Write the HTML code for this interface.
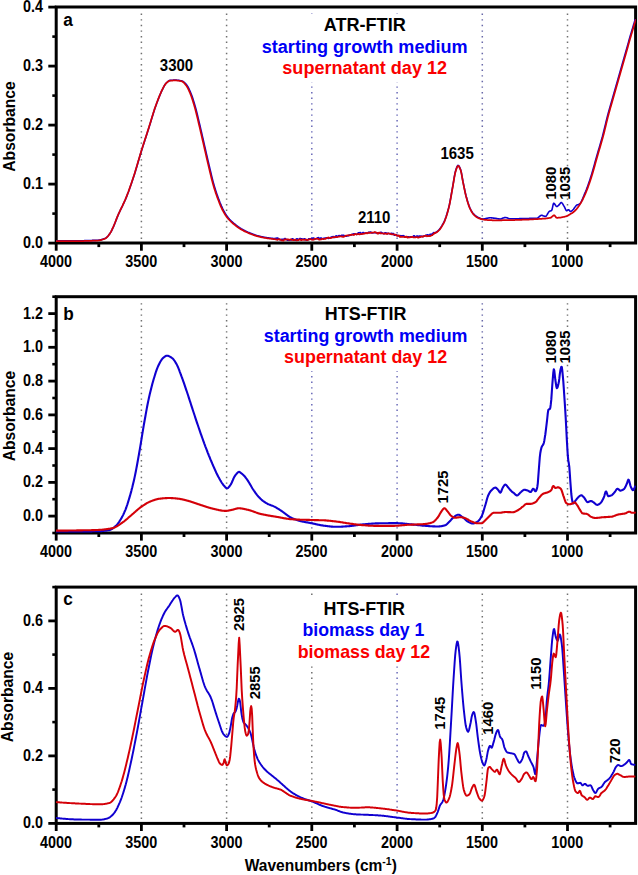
<!DOCTYPE html>
<html><head><meta charset="utf-8"><title>FTIR spectra</title>
<style>html,body{margin:0;padding:0;background:#fff}body{width:638px;height:875px;overflow:hidden;font-family:"Liberation Sans",sans-serif}</style></head>
<body>
<svg width="638" height="875" viewBox="0 0 638 875" style="display:block;font-family:'Liberation Sans',sans-serif;font-weight:bold">
<rect x="0" y="0" width="638" height="875" fill="#fff"/>
<defs>
<clipPath id="clipa"><rect x="56.0" y="6.0" width="579.8" height="238.0"/></clipPath>
<clipPath id="clipb"><rect x="56.0" y="295.7" width="579.8" height="238.3"/></clipPath>
<clipPath id="clipc"><rect x="56.0" y="586.1" width="579.8" height="238.3"/></clipPath>
</defs>
<line x1="141.4" y1="13.6" x2="141.4" y2="241.6" stroke="#707070" stroke-width="1.5" stroke-dasharray="1.4 4.2"/>
<line x1="226.6" y1="13.6" x2="226.6" y2="241.6" stroke="#707070" stroke-width="1.5" stroke-dasharray="1.4 4.2"/>
<line x1="311.8" y1="13.6" x2="311.8" y2="241.6" stroke="#6a6ab8" stroke-width="1.5" stroke-dasharray="1.4 4.2"/>
<line x1="397.1" y1="13.6" x2="397.1" y2="241.6" stroke="#6a6ab8" stroke-width="1.5" stroke-dasharray="1.4 4.2"/>
<line x1="482.3" y1="13.6" x2="482.3" y2="241.6" stroke="#6868a8" stroke-width="1.5" stroke-dasharray="1.4 4.2"/>
<line x1="567.5" y1="13.6" x2="567.5" y2="241.6" stroke="#707070" stroke-width="1.5" stroke-dasharray="1.4 4.2"/>
<line x1="141.4" y1="303.2" x2="141.4" y2="531.5" stroke="#707070" stroke-width="1.5" stroke-dasharray="1.4 4.2"/>
<line x1="226.6" y1="303.2" x2="226.6" y2="531.5" stroke="#707070" stroke-width="1.5" stroke-dasharray="1.4 4.2"/>
<line x1="311.8" y1="303.2" x2="311.8" y2="531.5" stroke="#6a6ab8" stroke-width="1.5" stroke-dasharray="1.4 4.2"/>
<line x1="397.1" y1="303.2" x2="397.1" y2="531.5" stroke="#6a6ab8" stroke-width="1.5" stroke-dasharray="1.4 4.2"/>
<line x1="482.3" y1="303.2" x2="482.3" y2="531.5" stroke="#6868a8" stroke-width="1.5" stroke-dasharray="1.4 4.2"/>
<line x1="567.5" y1="303.2" x2="567.5" y2="531.5" stroke="#707070" stroke-width="1.5" stroke-dasharray="1.4 4.2"/>
<line x1="141.4" y1="593.6" x2="141.4" y2="821.9" stroke="#707070" stroke-width="1.5" stroke-dasharray="1.4 4.2"/>
<line x1="226.6" y1="593.6" x2="226.6" y2="821.9" stroke="#707070" stroke-width="1.5" stroke-dasharray="1.4 4.2"/>
<line x1="311.8" y1="593.6" x2="311.8" y2="821.9" stroke="#707070" stroke-width="1.5" stroke-dasharray="1.4 4.2"/>
<line x1="397.1" y1="593.6" x2="397.1" y2="821.9" stroke="#6a6ab8" stroke-width="1.5" stroke-dasharray="1.4 4.2"/>
<line x1="482.3" y1="593.6" x2="482.3" y2="821.9" stroke="#707070" stroke-width="1.5" stroke-dasharray="1.4 4.2"/>
<line x1="567.5" y1="593.6" x2="567.5" y2="821.9" stroke="#707070" stroke-width="1.5" stroke-dasharray="1.4 4.2"/>
<rect x="258" y="14" width="214" height="68" fill="#fff"/>
<rect x="258" y="303" width="214" height="68" fill="#fff"/>
<rect x="292" y="597" width="144" height="68" fill="#fff"/>
<rect x="56.2" y="7.0" width="579.4" height="236.0" fill="none" stroke="#000" stroke-width="3"/>
<line x1="56.2" y1="243.1" x2="56.2" y2="250.7" stroke="#000" stroke-width="2.8"/>
<text transform="translate(56.0 267.2) scale(1 1.09)" font-size="14.4" text-anchor="middle">4000</text>
<line x1="98.8" y1="243.1" x2="98.8" y2="247.1" stroke="#000" stroke-width="2.8"/>
<line x1="141.4" y1="243.1" x2="141.4" y2="250.7" stroke="#000" stroke-width="2.8"/>
<text transform="translate(141.2 267.2) scale(1 1.09)" font-size="14.4" text-anchor="middle">3500</text>
<line x1="184.0" y1="243.1" x2="184.0" y2="247.1" stroke="#000" stroke-width="2.8"/>
<line x1="226.6" y1="243.1" x2="226.6" y2="250.7" stroke="#000" stroke-width="2.8"/>
<text transform="translate(226.4 267.2) scale(1 1.09)" font-size="14.4" text-anchor="middle">3000</text>
<line x1="269.2" y1="243.1" x2="269.2" y2="247.1" stroke="#000" stroke-width="2.8"/>
<line x1="311.8" y1="243.1" x2="311.8" y2="250.7" stroke="#000" stroke-width="2.8"/>
<text transform="translate(311.6 267.2) scale(1 1.09)" font-size="14.4" text-anchor="middle">2500</text>
<line x1="354.4" y1="243.1" x2="354.4" y2="247.1" stroke="#000" stroke-width="2.8"/>
<line x1="397.1" y1="243.1" x2="397.1" y2="250.7" stroke="#000" stroke-width="2.8"/>
<text transform="translate(396.9 267.2) scale(1 1.09)" font-size="14.4" text-anchor="middle">2000</text>
<line x1="439.7" y1="243.1" x2="439.7" y2="247.1" stroke="#000" stroke-width="2.8"/>
<line x1="482.3" y1="243.1" x2="482.3" y2="250.7" stroke="#000" stroke-width="2.8"/>
<text transform="translate(482.1 267.2) scale(1 1.09)" font-size="14.4" text-anchor="middle">1500</text>
<line x1="524.9" y1="243.1" x2="524.9" y2="247.1" stroke="#000" stroke-width="2.8"/>
<line x1="567.5" y1="243.1" x2="567.5" y2="250.7" stroke="#000" stroke-width="2.8"/>
<text transform="translate(567.3 267.2) scale(1 1.09)" font-size="14.4" text-anchor="middle">1000</text>
<line x1="610.1" y1="243.1" x2="610.1" y2="247.1" stroke="#000" stroke-width="2.8"/>
<line x1="48.3" y1="243.1" x2="56.2" y2="243.1" stroke="#000" stroke-width="2.8"/>
<text transform="translate(43.0 248.0) scale(1 1.1)" font-size="14.4" text-anchor="end">0.0</text>
<line x1="48.3" y1="184.1" x2="56.2" y2="184.1" stroke="#000" stroke-width="2.8"/>
<text transform="translate(43.0 189.0) scale(1 1.1)" font-size="14.4" text-anchor="end">0.1</text>
<line x1="48.3" y1="125.1" x2="56.2" y2="125.1" stroke="#000" stroke-width="2.8"/>
<text transform="translate(43.0 130.0) scale(1 1.1)" font-size="14.4" text-anchor="end">0.2</text>
<line x1="48.3" y1="66.1" x2="56.2" y2="66.1" stroke="#000" stroke-width="2.8"/>
<text transform="translate(43.0 71.0) scale(1 1.1)" font-size="14.4" text-anchor="end">0.3</text>
<line x1="48.3" y1="7.1" x2="56.2" y2="7.1" stroke="#000" stroke-width="2.8"/>
<text transform="translate(43.0 12.0) scale(1 1.1)" font-size="14.4" text-anchor="end">0.4</text>
<line x1="52.3" y1="213.6" x2="56.2" y2="213.6" stroke="#000" stroke-width="2.6"/>
<line x1="52.3" y1="154.6" x2="56.2" y2="154.6" stroke="#000" stroke-width="2.6"/>
<line x1="52.3" y1="95.6" x2="56.2" y2="95.6" stroke="#000" stroke-width="2.6"/>
<line x1="52.3" y1="36.6" x2="56.2" y2="36.6" stroke="#000" stroke-width="2.6"/>
<text transform="translate(14.9 126.5) rotate(-90) scale(1 1.04)" font-size="15.65" text-anchor="middle">Absorbance</text>
<text transform="translate(63.2 26.2) scale(1 1.05)" font-size="17.2">a</text>
<rect x="56.2" y="296.7" width="579.4" height="236.3" fill="none" stroke="#000" stroke-width="3"/>
<line x1="56.2" y1="533.0" x2="56.2" y2="540.6" stroke="#000" stroke-width="2.8"/>
<text transform="translate(56.0 557.1) scale(1 1.09)" font-size="14.4" text-anchor="middle">4000</text>
<line x1="98.8" y1="533.0" x2="98.8" y2="537.0" stroke="#000" stroke-width="2.8"/>
<line x1="141.4" y1="533.0" x2="141.4" y2="540.6" stroke="#000" stroke-width="2.8"/>
<text transform="translate(141.2 557.1) scale(1 1.09)" font-size="14.4" text-anchor="middle">3500</text>
<line x1="184.0" y1="533.0" x2="184.0" y2="537.0" stroke="#000" stroke-width="2.8"/>
<line x1="226.6" y1="533.0" x2="226.6" y2="540.6" stroke="#000" stroke-width="2.8"/>
<text transform="translate(226.4 557.1) scale(1 1.09)" font-size="14.4" text-anchor="middle">3000</text>
<line x1="269.2" y1="533.0" x2="269.2" y2="537.0" stroke="#000" stroke-width="2.8"/>
<line x1="311.8" y1="533.0" x2="311.8" y2="540.6" stroke="#000" stroke-width="2.8"/>
<text transform="translate(311.6 557.1) scale(1 1.09)" font-size="14.4" text-anchor="middle">2500</text>
<line x1="354.4" y1="533.0" x2="354.4" y2="537.0" stroke="#000" stroke-width="2.8"/>
<line x1="397.1" y1="533.0" x2="397.1" y2="540.6" stroke="#000" stroke-width="2.8"/>
<text transform="translate(396.9 557.1) scale(1 1.09)" font-size="14.4" text-anchor="middle">2000</text>
<line x1="439.7" y1="533.0" x2="439.7" y2="537.0" stroke="#000" stroke-width="2.8"/>
<line x1="482.3" y1="533.0" x2="482.3" y2="540.6" stroke="#000" stroke-width="2.8"/>
<text transform="translate(482.1 557.1) scale(1 1.09)" font-size="14.4" text-anchor="middle">1500</text>
<line x1="524.9" y1="533.0" x2="524.9" y2="537.0" stroke="#000" stroke-width="2.8"/>
<line x1="567.5" y1="533.0" x2="567.5" y2="540.6" stroke="#000" stroke-width="2.8"/>
<text transform="translate(567.3 557.1) scale(1 1.09)" font-size="14.4" text-anchor="middle">1000</text>
<line x1="610.1" y1="533.0" x2="610.1" y2="537.0" stroke="#000" stroke-width="2.8"/>
<line x1="48.3" y1="516.1" x2="56.2" y2="516.1" stroke="#000" stroke-width="2.8"/>
<text transform="translate(43.0 521.1) scale(1 1.1)" font-size="14.4" text-anchor="end">0.0</text>
<line x1="48.3" y1="482.4" x2="56.2" y2="482.4" stroke="#000" stroke-width="2.8"/>
<text transform="translate(43.0 487.3) scale(1 1.1)" font-size="14.4" text-anchor="end">0.2</text>
<line x1="48.3" y1="448.6" x2="56.2" y2="448.6" stroke="#000" stroke-width="2.8"/>
<text transform="translate(43.0 453.6) scale(1 1.1)" font-size="14.4" text-anchor="end">0.4</text>
<line x1="48.3" y1="414.9" x2="56.2" y2="414.9" stroke="#000" stroke-width="2.8"/>
<text transform="translate(43.0 419.8) scale(1 1.1)" font-size="14.4" text-anchor="end">0.6</text>
<line x1="48.3" y1="381.1" x2="56.2" y2="381.1" stroke="#000" stroke-width="2.8"/>
<text transform="translate(43.0 386.0) scale(1 1.1)" font-size="14.4" text-anchor="end">0.8</text>
<line x1="48.3" y1="347.3" x2="56.2" y2="347.3" stroke="#000" stroke-width="2.8"/>
<text transform="translate(43.0 352.3) scale(1 1.1)" font-size="14.4" text-anchor="end">1.0</text>
<line x1="48.3" y1="313.6" x2="56.2" y2="313.6" stroke="#000" stroke-width="2.8"/>
<text transform="translate(43.0 318.5) scale(1 1.1)" font-size="14.4" text-anchor="end">1.2</text>
<line x1="52.3" y1="533.0" x2="56.2" y2="533.0" stroke="#000" stroke-width="2.6"/>
<line x1="52.3" y1="499.2" x2="56.2" y2="499.2" stroke="#000" stroke-width="2.6"/>
<line x1="52.3" y1="465.5" x2="56.2" y2="465.5" stroke="#000" stroke-width="2.6"/>
<line x1="52.3" y1="431.7" x2="56.2" y2="431.7" stroke="#000" stroke-width="2.6"/>
<line x1="52.3" y1="398.0" x2="56.2" y2="398.0" stroke="#000" stroke-width="2.6"/>
<line x1="52.3" y1="364.2" x2="56.2" y2="364.2" stroke="#000" stroke-width="2.6"/>
<line x1="52.3" y1="330.5" x2="56.2" y2="330.5" stroke="#000" stroke-width="2.6"/>
<line x1="52.3" y1="296.7" x2="56.2" y2="296.7" stroke="#000" stroke-width="2.6"/>
<text transform="translate(14.8 416.1) rotate(-90) scale(1 1.04)" font-size="15.65" text-anchor="middle">Absorbance</text>
<text transform="translate(63.2 319.5) scale(1 1.05)" font-size="17.2">b</text>
<rect x="56.2" y="587.1" width="579.4" height="236.3" fill="none" stroke="#000" stroke-width="3"/>
<line x1="56.2" y1="823.4" x2="56.2" y2="831.0" stroke="#000" stroke-width="2.8"/>
<text transform="translate(56.0 847.5) scale(1 1.09)" font-size="14.4" text-anchor="middle">4000</text>
<line x1="98.8" y1="823.4" x2="98.8" y2="827.4" stroke="#000" stroke-width="2.8"/>
<line x1="141.4" y1="823.4" x2="141.4" y2="831.0" stroke="#000" stroke-width="2.8"/>
<text transform="translate(141.2 847.5) scale(1 1.09)" font-size="14.4" text-anchor="middle">3500</text>
<line x1="184.0" y1="823.4" x2="184.0" y2="827.4" stroke="#000" stroke-width="2.8"/>
<line x1="226.6" y1="823.4" x2="226.6" y2="831.0" stroke="#000" stroke-width="2.8"/>
<text transform="translate(226.4 847.5) scale(1 1.09)" font-size="14.4" text-anchor="middle">3000</text>
<line x1="269.2" y1="823.4" x2="269.2" y2="827.4" stroke="#000" stroke-width="2.8"/>
<line x1="311.8" y1="823.4" x2="311.8" y2="831.0" stroke="#000" stroke-width="2.8"/>
<text transform="translate(311.6 847.5) scale(1 1.09)" font-size="14.4" text-anchor="middle">2500</text>
<line x1="354.4" y1="823.4" x2="354.4" y2="827.4" stroke="#000" stroke-width="2.8"/>
<line x1="397.1" y1="823.4" x2="397.1" y2="831.0" stroke="#000" stroke-width="2.8"/>
<text transform="translate(396.9 847.5) scale(1 1.09)" font-size="14.4" text-anchor="middle">2000</text>
<line x1="439.7" y1="823.4" x2="439.7" y2="827.4" stroke="#000" stroke-width="2.8"/>
<line x1="482.3" y1="823.4" x2="482.3" y2="831.0" stroke="#000" stroke-width="2.8"/>
<text transform="translate(482.1 847.5) scale(1 1.09)" font-size="14.4" text-anchor="middle">1500</text>
<line x1="524.9" y1="823.4" x2="524.9" y2="827.4" stroke="#000" stroke-width="2.8"/>
<line x1="567.5" y1="823.4" x2="567.5" y2="831.0" stroke="#000" stroke-width="2.8"/>
<text transform="translate(567.3 847.5) scale(1 1.09)" font-size="14.4" text-anchor="middle">1000</text>
<line x1="610.1" y1="823.4" x2="610.1" y2="827.4" stroke="#000" stroke-width="2.8"/>
<line x1="48.3" y1="823.4" x2="56.2" y2="823.4" stroke="#000" stroke-width="2.8"/>
<text transform="translate(43.0 828.4) scale(1 1.1)" font-size="14.4" text-anchor="end">0.0</text>
<line x1="48.3" y1="755.9" x2="56.2" y2="755.9" stroke="#000" stroke-width="2.8"/>
<text transform="translate(43.0 760.8) scale(1 1.1)" font-size="14.4" text-anchor="end">0.2</text>
<line x1="48.3" y1="688.4" x2="56.2" y2="688.4" stroke="#000" stroke-width="2.8"/>
<text transform="translate(43.0 693.3) scale(1 1.1)" font-size="14.4" text-anchor="end">0.4</text>
<line x1="48.3" y1="620.9" x2="56.2" y2="620.9" stroke="#000" stroke-width="2.8"/>
<text transform="translate(43.0 625.8) scale(1 1.1)" font-size="14.4" text-anchor="end">0.6</text>
<line x1="52.3" y1="789.6" x2="56.2" y2="789.6" stroke="#000" stroke-width="2.6"/>
<line x1="52.3" y1="722.1" x2="56.2" y2="722.1" stroke="#000" stroke-width="2.6"/>
<line x1="52.3" y1="654.6" x2="56.2" y2="654.6" stroke="#000" stroke-width="2.6"/>
<line x1="52.3" y1="587.1" x2="56.2" y2="587.1" stroke="#000" stroke-width="2.6"/>
<text transform="translate(12.8 697.0) rotate(-90) scale(1 1.04)" font-size="15.65" text-anchor="middle">Absorbance</text>
<text transform="translate(63.2 605.4) scale(1 1.05)" font-size="17.2">c</text>
<path d="M56.5 240.9 L57.0 240.9 L57.5 240.9 L58.0 240.9 L58.5 240.9 L59.0 240.9 L59.5 240.9 L60.0 240.9 L60.5 240.9 L61.0 240.9 L61.5 240.9 L62.0 240.9 L62.5 240.9 L63.0 240.9 L63.5 240.9 L64.0 240.9 L64.5 240.9 L65.0 240.9 L65.5 240.9 L66.0 240.9 L66.5 240.9 L67.0 240.9 L67.5 240.9 L68.0 240.9 L68.5 240.9 L69.0 240.9 L69.5 240.9 L70.0 240.8 L70.5 240.8 L71.0 240.8 L71.5 240.8 L72.0 240.8 L72.5 240.8 L73.0 240.8 L73.5 240.8 L74.0 240.8 L74.5 240.8 L75.0 240.8 L75.5 240.8 L76.0 240.8 L76.5 240.8 L77.0 240.8 L77.5 240.8 L78.0 240.8 L78.5 240.8 L79.0 240.7 L79.5 240.7 L80.0 240.7 L80.5 240.7 L81.0 240.7 L81.5 240.7 L82.0 240.7 L82.5 240.7 L83.0 240.7 L83.5 240.7 L84.0 240.7 L84.5 240.6 L85.0 240.6 L85.5 240.6 L86.0 240.6 L86.5 240.6 L87.0 240.6 L87.5 240.6 L88.0 240.6 L88.5 240.6 L89.0 240.5 L89.5 240.5 L90.0 240.5 L90.5 240.5 L91.0 240.5 L91.5 240.5 L92.0 240.5 L92.5 240.4 L93.0 240.4 L93.5 240.4 L94.0 240.4 L94.5 240.4 L95.0 240.4 L95.5 240.4 L96.0 240.3 L96.5 240.3 L97.0 240.3 L97.5 240.3 L98.0 240.3 L98.5 240.2 L99.0 240.1 L99.5 240.1 L100.0 240.0 L100.5 239.9 L101.0 239.8 L101.5 239.6 L102.0 239.5 L102.5 239.3 L103.0 239.2 L103.5 239.0 L104.0 238.8 L104.5 238.6 L105.0 238.4 L105.5 238.2 L106.0 237.9 L106.5 237.5 L107.0 237.1 L107.5 236.5 L108.0 236.0 L108.5 235.4 L109.0 234.7 L109.5 234.1 L110.0 233.4 L110.5 232.6 L111.0 231.8 L111.5 230.8 L112.0 229.8 L112.5 228.7 L113.0 227.7 L113.5 226.6 L114.0 225.4 L114.5 224.2 L115.0 223.0 L115.5 221.7 L116.0 220.4 L116.5 219.1 L117.0 217.8 L117.5 216.6 L118.0 215.4 L118.5 214.2 L119.0 213.1 L119.5 212.0 L120.0 211.0 L120.5 209.9 L121.0 208.9 L121.5 207.8 L122.0 206.8 L122.5 205.8 L123.0 204.7 L123.5 203.7 L124.0 202.6 L124.5 201.5 L125.0 200.4 L125.5 199.3 L126.0 198.1 L126.5 196.9 L127.0 195.6 L127.5 194.3 L128.0 193.0 L128.5 191.7 L129.0 190.3 L129.5 188.9 L130.0 187.5 L130.5 186.1 L131.0 184.7 L131.5 183.2 L132.0 181.7 L132.5 180.2 L133.0 178.7 L133.5 177.2 L134.0 175.7 L134.5 174.2 L135.0 172.6 L135.5 171.0 L136.0 169.3 L136.5 167.6 L137.0 165.9 L137.5 164.2 L138.0 162.5 L138.5 160.8 L139.0 159.1 L139.5 157.4 L140.0 155.7 L140.5 154.0 L141.0 152.4 L141.5 150.8 L142.0 149.2 L142.5 147.6 L143.0 146.0 L143.5 144.5 L144.0 142.9 L144.5 141.4 L145.0 139.8 L145.5 138.3 L146.0 136.8 L146.5 135.2 L147.0 133.7 L147.5 132.1 L148.0 130.6 L148.5 129.0 L149.0 127.4 L149.5 125.8 L150.0 124.2 L150.5 122.6 L151.0 120.9 L151.5 119.3 L152.0 117.6 L152.5 116.0 L153.0 114.4 L153.5 112.8 L154.0 111.2 L154.5 109.6 L155.0 108.1 L155.5 106.7 L156.0 105.3 L156.5 103.9 L157.0 102.5 L157.5 101.2 L158.0 99.9 L158.5 98.6 L159.0 97.3 L159.5 96.1 L160.0 94.9 L160.5 93.7 L161.0 92.6 L161.5 91.4 L162.0 90.3 L162.5 89.3 L163.0 88.3 L163.5 87.3 L164.0 86.4 L164.5 85.5 L165.0 84.7 L165.5 83.9 L166.0 83.3 L166.5 82.8 L167.0 82.3 L167.5 81.9 L168.0 81.4 L168.5 81.1 L169.0 80.8 L169.5 80.5 L170.0 80.4 L170.5 80.4 L171.0 80.3 L171.5 80.3 L172.0 80.2 L172.5 80.2 L173.0 80.2 L173.5 80.1 L174.0 80.1 L174.5 80.1 L175.0 80.1 L175.5 80.1 L176.0 80.1 L176.5 80.1 L177.0 80.2 L177.5 80.2 L178.0 80.2 L178.5 80.3 L179.0 80.4 L179.5 80.5 L180.0 80.6 L180.5 80.7 L181.0 80.8 L181.5 80.9 L182.0 81.0 L182.5 81.2 L183.0 81.5 L183.5 81.8 L184.0 82.2 L184.5 82.6 L185.0 83.1 L185.5 83.6 L186.0 84.1 L186.5 84.7 L187.0 85.3 L187.5 86.1 L188.0 87.0 L188.5 87.9 L189.0 88.9 L189.5 90.0 L190.0 91.1 L190.5 92.3 L191.0 93.5 L191.5 94.8 L192.0 96.1 L192.5 97.6 L193.0 99.1 L193.5 100.7 L194.0 102.3 L194.5 104.0 L195.0 105.7 L195.5 107.5 L196.0 109.3 L196.5 111.2 L197.0 113.2 L197.5 115.3 L198.0 117.4 L198.5 119.5 L199.0 121.6 L199.5 123.7 L200.0 125.8 L200.5 127.9 L201.0 130.1 L201.5 132.2 L202.0 134.4 L202.5 136.6 L203.0 138.8 L203.5 141.0 L204.0 143.2 L204.5 145.4 L205.0 147.5 L205.5 149.7 L206.0 151.9 L206.5 154.1 L207.0 156.3 L207.5 158.5 L208.0 160.7 L208.5 162.8 L209.0 164.9 L209.5 167.0 L210.0 169.1 L210.5 171.2 L211.0 173.3 L211.5 175.4 L212.0 177.5 L212.5 179.5 L213.0 181.4 L213.5 183.2 L214.0 185.0 L214.5 186.7 L215.0 188.3 L215.5 189.9 L216.0 191.5 L216.5 193.0 L217.0 194.4 L217.5 195.8 L218.0 197.2 L218.5 198.6 L219.0 199.9 L219.5 201.2 L220.0 202.5 L220.5 203.7 L221.0 204.9 L221.5 206.1 L222.0 207.2 L222.5 208.3 L223.0 209.3 L223.5 210.3 L224.0 211.2 L224.5 212.1 L225.0 213.0 L225.5 213.8 L226.0 214.6 L226.5 215.4 L227.0 216.1 L227.5 216.8 L228.0 217.5 L228.5 218.1 L229.0 218.6 L229.5 219.2 L230.0 219.7 L230.5 220.2 L231.0 220.7 L231.5 221.2 L232.0 221.7 L232.5 222.1 L233.0 222.5 L233.5 223.0 L234.0 223.4 L234.5 223.8 L235.0 224.2 L235.5 224.6 L236.0 225.0 L236.5 225.4 L237.0 225.8 L237.5 226.2 L238.0 226.5 L238.5 226.9 L239.0 227.2 L239.5 227.6 L240.0 227.9 L240.5 228.2 L241.0 228.6 L241.5 228.9 L242.0 229.1 L242.5 229.4 L243.0 229.7 L243.5 230.0 L244.0 230.2 L244.5 230.5 L245.0 230.8 L245.5 231.0 L246.0 231.2 L246.5 231.5 L247.0 231.7 L247.5 231.9 L248.0 232.2 L248.5 232.4 L249.0 232.6 L249.5 232.8 L250.0 233.0 L250.5 233.2 L251.0 233.4 L251.5 233.6 L252.0 233.8 L252.5 234.0 L253.0 234.2 L253.5 234.4 L254.0 234.5 L254.5 234.7 L255.0 234.9 L255.5 235.1 L256.0 235.2 L256.5 235.4 L257.0 235.6 L257.5 235.7 L258.0 235.8 L258.5 236.0 L259.0 236.1 L259.5 236.2 L260.0 236.3 L260.5 236.5 L261.0 236.6 L261.5 236.7 L262.0 236.8 L262.5 236.9 L263.0 237.0 L263.5 237.1 L264.0 237.2 L264.5 237.3 L265.0 237.4 L265.5 237.5 L266.0 237.6 L266.5 237.6 L267.0 237.7 L267.5 237.8 L268.0 237.9 L268.5 237.9 L269.0 238.0 L269.5 238.1 L270.0 238.1 L270.5 238.2 L271.0 238.3 L271.5 238.3 L272.0 238.4 L272.5 238.4 L273.0 238.5 L273.5 238.5 L274.0 238.6 L274.5 238.6 L275.0 238.7 L275.5 238.2 L276.0 238.2 L276.5 238.3 L277.0 238.0 L277.5 238.1 L278.0 238.1 L278.5 239.0 L279.0 239.0 L279.5 239.1 L280.0 239.6 L280.5 239.6 L281.0 239.7 L281.5 239.2 L282.0 239.2 L282.5 239.2 L283.0 239.4 L283.5 239.4 L284.0 239.4 L284.5 238.6 L285.0 238.6 L285.5 238.6 L286.0 239.5 L286.5 239.5 L287.0 239.5 L287.5 240.3 L288.0 240.3 L288.5 240.3 L289.0 240.1 L289.5 240.1 L290.0 240.1 L290.5 239.9 L291.0 239.9 L291.5 239.9 L292.0 238.8 L292.5 238.8 L293.0 238.8 L293.5 240.2 L294.0 240.2 L294.5 240.2 L295.0 240.1 L295.5 240.1 L296.0 240.1 L296.5 238.9 L297.0 238.9 L297.5 238.9 L298.0 239.7 L298.5 239.7 L299.0 239.7 L299.5 238.6 L300.0 238.6 L300.5 238.6 L301.0 238.8 L301.5 238.8 L302.0 238.8 L302.5 239.2 L303.0 239.2 L303.5 239.2 L304.0 238.9 L304.5 238.8 L305.0 238.8 L305.5 239.9 L306.0 239.9 L306.5 239.8 L307.0 239.9 L307.5 239.8 L308.0 239.8 L308.5 238.9 L309.0 238.9 L309.5 238.8 L310.0 238.7 L310.5 238.7 L311.0 238.7 L311.5 238.2 L312.0 238.2 L312.5 238.2 L313.0 238.1 L313.5 238.0 L314.0 238.0 L314.5 239.1 L315.0 239.1 L315.5 239.0 L316.0 238.8 L316.5 238.8 L317.0 238.7 L317.5 237.7 L318.0 237.7 L318.5 237.6 L319.0 238.3 L319.5 238.3 L320.0 238.3 L320.5 238.1 L321.0 238.0 L321.5 238.0 L322.0 238.8 L322.5 238.7 L323.0 238.7 L323.5 238.4 L324.0 238.4 L324.5 238.3 L325.0 238.1 L325.5 238.0 L326.0 238.0 L326.5 237.8 L327.0 237.8 L327.5 237.7 L328.0 238.4 L328.5 238.4 L329.0 238.3 L329.5 238.3 L330.0 238.3 L330.5 238.2 L331.0 237.0 L331.5 237.0 L332.0 236.9 L332.5 236.7 L333.0 236.6 L333.5 236.6 L334.0 237.5 L334.5 237.5 L335.0 237.4 L335.5 236.0 L336.0 236.0 L336.5 235.9 L337.0 236.4 L337.5 236.4 L338.0 236.3 L338.5 235.7 L339.0 235.6 L339.5 235.6 L340.0 235.9 L340.5 235.9 L341.0 235.8 L341.5 235.3 L342.0 235.2 L342.5 235.2 L343.0 235.5 L343.5 235.4 L344.0 235.3 L344.5 236.2 L345.0 236.1 L345.5 236.0 L346.0 236.2 L346.5 236.1 L347.0 236.0 L347.5 235.7 L348.0 235.7 L348.5 235.6 L349.0 235.1 L349.5 235.1 L350.0 235.0 L350.5 235.0 L351.0 235.0 L351.5 234.9 L352.0 234.4 L352.5 234.3 L353.0 234.2 L353.5 233.8 L354.0 233.8 L354.5 233.7 L355.0 234.1 L355.5 234.0 L356.0 234.0 L356.5 234.4 L357.0 234.3 L357.5 234.3 L358.0 233.0 L358.5 232.9 L359.0 232.8 L359.5 232.7 L360.0 232.6 L360.5 232.5 L361.0 233.8 L361.5 233.7 L362.0 233.6 L362.5 232.7 L363.0 232.6 L363.5 232.6 L364.0 233.2 L364.5 233.2 L365.0 233.1 L365.5 233.1 L366.0 233.1 L366.5 233.0 L367.0 233.3 L367.5 233.3 L368.0 233.2 L368.5 232.2 L369.0 232.2 L369.5 232.2 L370.0 232.1 L370.5 232.1 L371.0 232.1 L371.5 232.9 L372.0 232.9 L372.5 232.9 L373.0 232.8 L373.5 232.8 L374.0 232.8 L374.5 232.6 L375.0 232.6 L375.5 232.6 L376.0 232.9 L376.5 233.0 L377.0 233.0 L377.5 232.7 L378.0 232.7 L378.5 232.7 L379.0 233.3 L379.5 233.3 L380.0 233.4 L380.5 232.3 L381.0 232.3 L381.5 232.3 L382.0 233.1 L382.5 233.1 L383.0 233.2 L383.5 233.6 L384.0 233.7 L384.5 233.7 L385.0 232.7 L385.5 232.8 L386.0 232.9 L386.5 233.4 L387.0 233.5 L387.5 233.6 L388.0 233.3 L388.5 233.4 L389.0 233.5 L389.5 233.7 L390.0 233.8 L390.5 233.9 L391.0 233.3 L391.5 233.4 L392.0 233.5 L392.5 233.5 L393.0 233.5 L393.5 233.6 L394.0 235.0 L394.5 235.1 L395.0 235.2 L395.5 234.7 L396.0 234.8 L396.5 234.9 L397.0 235.3 L397.5 235.4 L398.0 235.5 L398.5 235.9 L399.0 236.0 L399.5 236.1 L400.0 235.6 L400.5 235.7 L401.0 235.8 L401.5 235.7 L402.0 235.8 L402.5 235.9 L403.0 235.6 L403.5 235.7 L404.0 235.7 L404.5 236.9 L405.0 236.9 L405.5 236.9 L406.0 237.0 L406.5 237.0 L407.0 237.0 L407.5 236.8 L408.0 236.8 L408.5 236.8 L409.0 237.1 L409.5 237.1 L410.0 237.1 L410.5 236.7 L411.0 236.7 L411.5 236.7 L412.0 236.8 L412.5 236.8 L413.0 236.8 L413.5 235.8 L414.0 235.8 L414.5 235.8 L415.0 236.9 L415.5 236.9 L416.0 236.9 L416.5 236.1 L417.0 236.1 L417.5 236.1 L418.0 236.3 L418.5 236.3 L419.0 236.3 L419.5 236.1 L420.0 236.0 L420.5 236.0 L421.0 236.4 L421.5 236.4 L422.0 236.3 L422.5 236.5 L423.0 236.4 L423.5 236.3 L424.0 236.1 L424.5 236.0 L425.0 236.0 L425.5 235.4 L426.0 235.3 L426.5 235.2 L427.0 234.9 L427.5 234.8 L428.0 234.7 L428.5 235.8 L429.0 235.6 L429.5 235.5 L430.0 234.4 L430.5 234.3 L431.0 234.2 L431.5 234.3 L432.0 234.1 L432.5 233.9 L433.0 233.1 L433.5 232.8 L434.0 232.6 L434.5 232.7 L435.0 232.8 L435.5 232.5 L436.0 232.2 L436.5 231.9 L437.0 231.5 L437.5 231.2 L438.0 230.8 L438.5 230.3 L439.0 229.8 L439.5 229.2 L440.0 228.6 L440.5 227.9 L441.0 227.2 L441.5 226.4 L442.0 225.6 L442.5 224.7 L443.0 223.8 L443.5 222.9 L444.0 221.9 L444.5 220.8 L445.0 219.6 L445.5 218.3 L446.0 216.9 L446.5 215.3 L447.0 213.7 L447.5 212.0 L448.0 210.2 L448.5 208.4 L449.0 206.4 L449.5 204.2 L450.0 201.7 L450.5 199.0 L451.0 196.2 L451.5 193.3 L452.0 190.5 L452.5 187.7 L453.0 184.9 L453.5 181.9 L454.0 178.8 L454.5 175.9 L455.0 173.3 L455.5 171.2 L456.0 169.6 L456.5 168.1 L457.0 166.8 L457.5 165.9 L458.0 165.4 L458.5 165.6 L459.0 166.1 L459.5 167.0 L460.0 168.1 L460.5 169.3 L461.0 170.9 L461.5 173.3 L462.0 176.1 L462.5 179.0 L463.0 181.7 L463.5 184.1 L464.0 186.6 L464.5 189.0 L465.0 191.4 L465.5 193.6 L466.0 195.7 L466.5 197.6 L467.0 199.3 L467.5 201.0 L468.0 202.7 L468.5 204.2 L469.0 205.6 L469.5 206.9 L470.0 208.1 L470.5 209.1 L471.0 210.1 L471.5 211.0 L472.0 211.8 L472.5 212.6 L473.0 213.3 L473.5 213.9 L474.0 214.4 L474.5 214.9 L475.0 215.3 L475.5 215.7 L476.0 216.1 L476.5 216.5 L477.0 216.8 L477.5 217.1 L478.0 217.4 L478.5 217.6 L479.0 217.8 L479.5 218.1 L480.0 218.3 L480.5 218.5 L481.0 218.7 L481.5 218.8 L482.0 218.9 L482.5 219.0 L483.0 219.0 L483.5 219.0 L484.0 218.9 L484.5 218.8 L485.0 218.7 L485.5 218.6 L486.0 218.5 L486.5 218.4 L487.0 218.3 L487.5 218.2 L488.0 218.0 L488.5 218.0 L489.0 217.9 L489.5 217.8 L490.0 217.8 L490.5 217.8 L491.0 217.8 L491.5 217.9 L492.0 217.9 L492.5 218.0 L493.0 218.0 L493.5 218.1 L494.0 218.1 L494.5 218.2 L495.0 218.3 L495.5 218.3 L496.0 218.4 L496.5 218.5 L497.0 218.6 L497.5 218.7 L498.0 218.8 L498.5 218.9 L499.0 218.9 L499.5 219.0 L500.0 219.0 L500.5 219.0 L501.0 218.9 L501.5 218.7 L502.0 218.5 L502.5 218.3 L503.0 218.1 L503.5 217.9 L504.0 217.7 L504.5 217.6 L505.0 217.5 L505.5 217.5 L506.0 217.6 L506.5 217.7 L507.0 217.8 L507.5 218.0 L508.0 218.2 L508.5 218.4 L509.0 218.6 L509.5 218.7 L510.0 218.8 L510.5 218.8 L511.0 218.8 L511.5 218.8 L512.0 218.8 L512.5 218.8 L513.0 218.8 L513.5 218.8 L514.0 218.8 L514.5 218.8 L515.0 218.7 L515.5 218.7 L516.0 218.7 L516.5 218.7 L517.0 218.7 L517.5 218.7 L518.0 218.7 L518.5 218.7 L519.0 218.7 L519.5 218.6 L520.0 218.6 L520.5 218.6 L521.0 218.6 L521.5 218.6 L522.0 218.6 L522.5 218.6 L523.0 218.5 L523.5 218.5 L524.0 218.5 L524.5 218.5 L525.0 218.5 L525.5 218.5 L526.0 218.5 L526.5 218.5 L527.0 218.5 L527.5 218.5 L528.0 218.5 L528.5 218.5 L529.0 218.5 L529.5 218.4 L530.0 218.4 L530.5 218.4 L531.0 218.4 L531.5 218.4 L532.0 218.4 L532.5 218.4 L533.0 218.4 L533.5 218.4 L534.0 218.4 L534.5 218.4 L535.0 218.4 L535.5 218.3 L536.0 218.3 L536.5 218.3 L537.0 218.2 L537.5 218.0 L538.0 217.7 L538.5 217.3 L539.0 216.9 L539.5 216.4 L540.0 216.0 L540.5 215.7 L541.0 215.4 L541.5 215.3 L542.0 215.3 L542.5 215.5 L543.0 215.7 L543.5 215.9 L544.0 216.1 L544.5 216.3 L545.0 216.5 L545.5 216.5 L546.0 216.2 L546.5 215.6 L547.0 214.9 L547.5 214.0 L548.0 213.1 L548.5 212.3 L549.0 211.7 L549.5 211.3 L550.0 211.1 L550.5 210.9 L551.0 210.7 L551.5 210.5 L552.0 209.7 L552.5 207.6 L553.0 205.1 L553.5 203.4 L554.0 203.3 L554.5 203.8 L555.0 204.5 L555.5 205.3 L556.0 206.0 L556.5 206.5 L557.0 206.5 L557.5 206.2 L558.0 205.8 L558.5 205.4 L559.0 204.9 L559.5 204.4 L560.0 203.7 L560.5 203.0 L561.0 202.5 L561.5 202.6 L562.0 203.0 L562.5 203.6 L563.0 204.4 L563.5 205.3 L564.0 206.2 L564.5 207.0 L565.0 208.1 L565.5 209.2 L566.0 210.2 L566.5 210.7 L567.0 210.7 L567.5 210.3 L568.0 209.9 L568.5 209.7 L569.0 210.0 L569.5 210.6 L570.0 211.2 L570.5 211.5 L571.0 211.4 L571.5 211.1 L572.0 210.7 L572.5 210.2 L573.0 209.7 L573.5 209.2 L574.0 208.5 L574.5 207.8 L575.0 207.1 L575.5 206.4 L576.0 205.8 L576.5 205.3 L577.0 205.0 L577.5 204.8 L578.0 204.7 L578.5 204.5 L579.0 204.3 L579.5 204.0 L580.0 203.6 L580.5 202.9 L581.0 202.1 L581.5 201.2 L582.0 200.2 L582.5 199.0 L583.0 197.8 L583.5 196.6 L584.0 195.4 L584.5 194.1 L585.0 192.9 L585.5 191.8 L586.0 190.5 L586.5 189.3 L587.0 187.9 L587.5 186.6 L588.0 185.2 L588.5 183.8 L589.0 182.3 L589.5 180.9 L590.0 179.4 L590.5 177.8 L591.0 176.3 L591.5 174.7 L592.0 173.0 L592.5 171.3 L593.0 169.5 L593.5 167.7 L594.0 165.9 L594.5 164.1 L595.0 162.3 L595.5 160.4 L596.0 158.7 L596.5 156.9 L597.0 155.2 L597.5 153.5 L598.0 151.8 L598.5 150.1 L599.0 148.4 L599.5 146.7 L600.0 145.0 L600.5 143.3 L601.0 141.6 L601.5 139.8 L602.0 138.0 L602.5 136.2 L603.0 134.2 L603.5 132.3 L604.0 130.3 L604.5 128.2 L605.0 126.1 L605.5 124.1 L606.0 122.0 L606.5 120.0 L607.0 118.0 L607.5 116.0 L608.0 114.1 L608.5 112.3 L609.0 110.4 L609.5 108.6 L610.0 106.9 L610.5 105.1 L611.0 103.4 L611.5 101.7 L612.0 100.0 L612.5 98.3 L613.0 96.5 L613.5 94.8 L614.0 93.0 L614.5 91.3 L615.0 89.5 L615.5 87.8 L616.0 86.0 L616.5 84.3 L617.0 82.5 L617.5 80.8 L618.0 79.0 L618.5 77.3 L619.0 75.5 L619.5 73.7 L620.0 72.0 L620.5 70.2 L621.0 68.5 L621.5 66.7 L622.0 65.0 L622.5 63.2 L623.0 61.5 L623.5 59.7 L624.0 58.0 L624.5 56.2 L625.0 54.5 L625.5 52.7 L626.0 50.9 L626.5 49.2 L627.0 47.4 L627.5 45.6 L628.0 43.9 L628.5 42.1 L629.0 40.3 L629.5 38.6 L630.0 36.8 L630.5 35.1 L631.0 33.4 L631.5 31.7 L632.0 30.0 L632.5 28.4 L633.0 26.7 L633.5 25.0 L634.0 23.4 L634.5 21.8 L635.0 20.1 L635.1 19.8" fill="none" stroke="#1000d0" stroke-width="1.6" stroke-linejoin="round" stroke-linecap="round" clip-path="url(#clipa)"/>
<path d="M56.3 241.2 L56.8 241.2 L57.3 241.2 L57.8 241.2 L58.3 241.2 L58.8 241.2 L59.3 241.2 L59.8 241.2 L60.3 241.2 L60.8 241.2 L61.3 241.2 L61.8 241.2 L62.3 241.2 L62.8 241.2 L63.3 241.2 L63.8 241.2 L64.3 241.2 L64.8 241.2 L65.3 241.2 L65.8 241.2 L66.3 241.2 L66.8 241.2 L67.3 241.2 L67.8 241.2 L68.3 241.2 L68.8 241.2 L69.3 241.2 L69.8 241.1 L70.3 241.1 L70.8 241.1 L71.3 241.1 L71.8 241.1 L72.3 241.1 L72.8 241.1 L73.3 241.1 L73.8 241.1 L74.3 241.1 L74.8 241.1 L75.3 241.1 L75.8 241.1 L76.3 241.1 L76.8 241.1 L77.3 241.1 L77.8 241.1 L78.3 241.1 L78.8 241.0 L79.3 241.0 L79.8 241.0 L80.3 241.0 L80.8 241.0 L81.3 241.0 L81.8 241.0 L82.3 241.0 L82.8 241.0 L83.3 241.0 L83.8 241.0 L84.3 240.9 L84.8 240.9 L85.3 240.9 L85.8 240.9 L86.3 240.9 L86.8 240.9 L87.3 240.9 L87.8 240.9 L88.3 240.9 L88.8 240.8 L89.3 240.8 L89.8 240.8 L90.3 240.8 L90.8 240.8 L91.3 240.8 L91.8 240.8 L92.3 240.7 L92.8 240.7 L93.3 240.7 L93.8 240.7 L94.3 240.7 L94.8 240.7 L95.3 240.7 L95.8 240.6 L96.3 240.6 L96.8 240.6 L97.3 240.6 L97.8 240.6 L98.3 240.5 L98.8 240.4 L99.3 240.4 L99.8 240.3 L100.3 240.2 L100.8 240.1 L101.3 239.9 L101.8 239.8 L102.3 239.6 L102.8 239.5 L103.3 239.3 L103.8 239.1 L104.3 238.9 L104.8 238.7 L105.3 238.5 L105.8 238.2 L106.3 237.8 L106.8 237.4 L107.3 236.8 L107.8 236.3 L108.3 235.7 L108.8 235.0 L109.3 234.4 L109.8 233.7 L110.3 232.9 L110.8 232.1 L111.3 231.1 L111.8 230.1 L112.3 229.0 L112.8 228.0 L113.3 226.9 L113.8 225.7 L114.3 224.5 L114.8 223.3 L115.3 222.0 L115.8 220.7 L116.3 219.4 L116.8 218.1 L117.3 216.9 L117.8 215.7 L118.3 214.5 L118.8 213.4 L119.3 212.3 L119.8 211.3 L120.3 210.2 L120.8 209.2 L121.3 208.1 L121.8 207.1 L122.3 206.1 L122.8 205.0 L123.3 204.0 L123.8 202.9 L124.3 201.8 L124.8 200.7 L125.3 199.6 L125.8 198.4 L126.3 197.2 L126.8 195.9 L127.3 194.6 L127.8 193.3 L128.3 192.0 L128.8 190.6 L129.3 189.2 L129.8 187.8 L130.3 186.4 L130.8 185.0 L131.3 183.5 L131.8 182.0 L132.3 180.5 L132.8 179.0 L133.3 177.5 L133.8 176.0 L134.3 174.5 L134.8 172.9 L135.3 171.3 L135.8 169.6 L136.3 167.9 L136.8 166.2 L137.3 164.5 L137.8 162.8 L138.3 161.1 L138.8 159.4 L139.3 157.7 L139.8 156.0 L140.3 154.3 L140.8 152.7 L141.3 151.1 L141.8 149.5 L142.3 147.9 L142.8 146.3 L143.3 144.8 L143.8 143.2 L144.3 141.7 L144.8 140.1 L145.3 138.6 L145.8 137.1 L146.3 135.5 L146.8 134.0 L147.3 132.4 L147.8 130.9 L148.3 129.3 L148.8 127.7 L149.3 126.1 L149.8 124.5 L150.3 122.9 L150.8 121.2 L151.3 119.6 L151.8 117.9 L152.3 116.3 L152.8 114.7 L153.3 113.1 L153.8 111.5 L154.3 109.9 L154.8 108.4 L155.3 107.0 L155.8 105.6 L156.3 104.2 L156.8 102.8 L157.3 101.5 L157.8 100.2 L158.3 98.9 L158.8 97.6 L159.3 96.4 L159.8 95.2 L160.3 94.0 L160.8 92.9 L161.3 91.7 L161.8 90.6 L162.3 89.6 L162.8 88.6 L163.3 87.6 L163.8 86.7 L164.3 85.8 L164.8 85.0 L165.3 84.2 L165.8 83.6 L166.3 83.1 L166.8 82.6 L167.3 82.2 L167.8 81.7 L168.3 81.4 L168.8 81.1 L169.3 80.8 L169.8 80.7 L170.3 80.7 L170.8 80.6 L171.3 80.6 L171.8 80.5 L172.3 80.5 L172.8 80.5 L173.3 80.4 L173.8 80.4 L174.3 80.4 L174.8 80.4 L175.3 80.4 L175.8 80.4 L176.3 80.4 L176.8 80.5 L177.3 80.5 L177.8 80.5 L178.3 80.6 L178.8 80.7 L179.3 80.8 L179.8 80.9 L180.3 81.0 L180.8 81.1 L181.3 81.2 L181.8 81.3 L182.3 81.5 L182.8 81.8 L183.3 82.2 L183.8 82.7 L184.3 83.2 L184.8 83.8 L185.3 84.4 L185.8 85.0 L186.3 85.6 L186.8 86.4 L187.3 87.2 L187.8 88.2 L188.3 89.1 L188.8 90.2 L189.3 91.3 L189.8 92.4 L190.3 93.6 L190.8 94.9 L191.3 96.3 L191.8 97.7 L192.3 99.2 L192.8 100.8 L193.3 102.4 L193.8 104.1 L194.3 105.8 L194.8 107.5 L195.3 109.3 L195.8 111.2 L196.3 113.2 L196.8 115.3 L197.3 117.3 L197.8 119.4 L198.3 121.6 L198.8 123.7 L199.3 125.8 L199.8 127.9 L200.3 130.0 L200.8 132.2 L201.3 134.4 L201.8 136.6 L202.3 138.8 L202.8 141.0 L203.3 143.1 L203.8 145.3 L204.3 147.5 L204.8 149.7 L205.3 151.9 L205.8 154.1 L206.3 156.3 L206.8 158.5 L207.3 160.6 L207.8 162.8 L208.3 164.9 L208.8 167.0 L209.3 169.1 L209.8 171.2 L210.3 173.3 L210.8 175.4 L211.3 177.5 L211.8 179.5 L212.3 181.4 L212.8 183.3 L213.3 185.1 L213.8 186.8 L214.3 188.4 L214.8 190.0 L215.3 191.6 L215.8 193.1 L216.3 194.5 L216.8 196.0 L217.3 197.4 L217.8 198.7 L218.3 200.0 L218.8 201.3 L219.3 202.6 L219.8 203.9 L220.3 205.1 L220.8 206.3 L221.3 207.4 L221.8 208.5 L222.3 209.5 L222.8 210.5 L223.3 211.4 L223.8 212.3 L224.3 213.2 L224.8 214.0 L225.3 214.9 L225.8 215.6 L226.3 216.4 L226.8 217.1 L227.3 217.7 L227.8 218.3 L228.3 218.9 L228.8 219.5 L229.3 220.0 L229.8 220.5 L230.3 221.0 L230.8 221.5 L231.3 222.0 L231.8 222.4 L232.3 222.9 L232.8 223.3 L233.3 223.7 L233.8 224.1 L234.3 224.5 L234.8 224.9 L235.3 225.3 L235.8 225.7 L236.3 226.1 L236.8 226.5 L237.3 226.9 L237.8 227.2 L238.3 227.6 L238.8 227.9 L239.3 228.3 L239.8 228.6 L240.3 228.9 L240.8 229.2 L241.3 229.5 L241.8 229.8 L242.3 230.1 L242.8 230.3 L243.3 230.6 L243.8 230.9 L244.3 231.1 L244.8 231.4 L245.3 231.6 L245.8 231.8 L246.3 232.1 L246.8 232.3 L247.3 232.5 L247.8 232.7 L248.3 232.9 L248.8 233.2 L249.3 233.4 L249.8 233.6 L250.3 233.8 L250.8 234.0 L251.3 234.2 L251.8 234.3 L252.3 234.5 L252.8 234.7 L253.3 234.9 L253.8 235.1 L254.3 235.3 L254.8 235.4 L255.3 235.6 L255.8 235.8 L256.3 235.9 L256.8 236.1 L257.3 236.2 L257.8 236.3 L258.3 236.5 L258.8 236.6 L259.3 236.7 L259.8 236.8 L260.3 236.9 L260.8 237.1 L261.3 237.2 L261.8 237.3 L262.3 237.4 L262.8 237.5 L263.3 237.6 L263.8 237.7 L264.3 237.8 L264.8 237.9 L265.3 237.9 L265.8 238.0 L266.3 238.1 L266.8 238.2 L267.3 238.3 L267.8 238.3 L268.3 238.4 L268.8 238.5 L269.3 238.6 L269.8 238.6 L270.3 238.7 L270.8 238.7 L271.3 238.8 L271.8 238.9 L272.3 238.9 L272.8 239.0 L273.3 239.0 L273.8 239.1 L274.3 239.1 L274.8 239.2 L275.3 239.3 L275.8 239.4 L276.3 239.4 L276.8 239.7 L277.3 239.8 L277.8 239.8 L278.3 239.2 L278.8 239.3 L279.3 239.3 L279.8 239.7 L280.3 239.7 L280.8 239.8 L281.3 240.4 L281.8 240.4 L282.3 240.4 L282.8 240.5 L283.3 240.5 L283.8 240.5 L284.3 239.4 L284.8 239.4 L285.3 239.4 L285.8 239.6 L286.3 239.6 L286.8 239.6 L287.3 239.3 L287.8 239.3 L288.3 239.3 L288.8 239.9 L289.3 239.9 L289.8 239.9 L290.3 239.3 L290.8 239.3 L291.3 239.3 L291.8 239.9 L292.3 239.9 L292.8 239.9 L293.3 240.2 L293.8 240.2 L294.3 240.2 L294.8 239.7 L295.3 239.7 L295.8 239.7 L296.3 240.3 L296.8 240.3 L297.3 240.3 L297.8 240.1 L298.3 240.1 L298.8 240.1 L299.3 239.3 L299.8 239.3 L300.3 239.3 L300.8 240.1 L301.3 240.1 L301.8 240.1 L302.3 239.6 L302.8 239.6 L303.3 239.6 L303.8 239.9 L304.3 239.8 L304.8 239.8 L305.3 239.6 L305.8 239.6 L306.3 239.5 L306.8 240.1 L307.3 240.1 L307.8 240.0 L308.3 239.6 L308.8 239.6 L309.3 239.5 L309.8 239.1 L310.3 239.0 L310.8 239.0 L311.3 239.5 L311.8 239.5 L312.3 239.5 L312.8 239.8 L313.3 239.7 L313.8 239.7 L314.3 238.9 L314.8 238.9 L315.3 238.9 L315.8 238.7 L316.3 238.7 L316.8 238.6 L317.3 238.8 L317.8 238.8 L318.3 238.8 L318.8 239.5 L319.3 239.5 L319.8 239.5 L320.3 239.5 L320.8 239.4 L321.3 239.4 L321.8 238.9 L322.3 238.9 L322.8 238.8 L323.3 239.1 L323.8 239.1 L324.3 239.0 L324.8 238.9 L325.3 238.9 L325.8 238.8 L326.3 238.1 L326.8 238.0 L327.3 238.0 L327.8 237.5 L328.3 237.5 L328.8 237.4 L329.3 238.2 L329.8 238.2 L330.3 238.1 L330.8 237.9 L331.3 237.9 L331.8 237.8 L332.3 237.5 L332.8 237.4 L333.3 237.4 L333.8 237.1 L334.3 237.1 L334.8 237.0 L335.3 237.2 L335.8 237.2 L336.3 237.1 L336.8 237.1 L337.3 237.1 L337.8 237.0 L338.3 236.6 L338.8 236.6 L339.3 236.5 L339.8 236.5 L340.3 236.4 L340.8 236.4 L341.3 236.5 L341.8 236.5 L342.3 236.4 L342.8 236.9 L343.3 236.9 L343.8 236.8 L344.3 236.3 L344.8 236.2 L345.3 236.2 L345.8 235.6 L346.3 235.6 L346.8 235.5 L347.3 235.4 L347.8 235.3 L348.3 235.3 L348.8 235.5 L349.3 235.4 L349.8 235.3 L350.3 234.9 L350.8 234.8 L351.3 234.8 L351.8 234.7 L352.3 234.6 L352.8 234.6 L353.3 235.0 L353.8 234.9 L354.3 234.8 L354.8 234.1 L355.3 234.1 L355.8 234.0 L356.3 234.5 L356.8 234.4 L357.3 234.3 L357.8 234.1 L358.3 234.0 L358.8 233.9 L359.3 234.4 L359.8 234.3 L360.3 234.2 L360.8 234.2 L361.3 234.1 L361.8 234.1 L362.3 233.9 L362.8 233.8 L363.3 233.8 L363.8 233.7 L364.3 233.6 L364.8 233.6 L365.3 233.0 L365.8 233.0 L366.3 232.9 L366.8 233.3 L367.3 233.3 L367.8 233.2 L368.3 232.7 L368.8 232.7 L369.3 232.6 L369.8 233.0 L370.3 232.9 L370.8 232.9 L371.3 232.5 L371.8 232.5 L372.3 232.5 L372.8 232.7 L373.3 232.7 L373.8 232.7 L374.3 232.2 L374.8 232.2 L375.3 232.2 L375.8 232.5 L376.3 232.5 L376.8 232.5 L377.3 233.6 L377.8 233.7 L378.3 233.7 L378.8 232.6 L379.3 232.6 L379.8 232.6 L380.3 233.3 L380.8 233.4 L381.3 233.4 L381.8 233.4 L382.3 233.4 L382.8 233.5 L383.3 233.6 L383.8 233.7 L384.3 233.7 L384.8 233.4 L385.3 233.5 L385.8 233.6 L386.3 233.9 L386.8 233.9 L387.3 234.0 L387.8 233.3 L388.3 233.4 L388.8 233.5 L389.3 233.6 L389.8 233.7 L390.3 233.8 L390.8 234.1 L391.3 234.2 L391.8 234.3 L392.3 234.3 L392.8 234.4 L393.3 234.4 L393.8 234.4 L394.3 234.5 L394.8 234.6 L395.3 234.7 L395.8 234.8 L396.3 234.9 L396.8 235.7 L397.3 235.8 L397.8 235.9 L398.3 235.4 L398.8 235.5 L399.3 235.6 L399.8 236.9 L400.3 236.9 L400.8 237.0 L401.3 236.7 L401.8 236.8 L402.3 236.9 L402.8 236.7 L403.3 236.8 L403.8 236.8 L404.3 237.1 L404.8 237.2 L405.3 237.2 L405.8 236.5 L406.3 236.5 L406.8 236.5 L407.3 237.5 L407.8 237.5 L408.3 237.5 L408.8 237.4 L409.3 237.4 L409.8 237.4 L410.3 237.2 L410.8 237.2 L411.3 237.2 L411.8 236.9 L412.3 236.9 L412.8 236.9 L413.3 237.4 L413.8 237.4 L414.3 237.4 L414.8 237.3 L415.3 237.3 L415.8 237.3 L416.3 237.1 L416.8 237.1 L417.3 237.1 L417.8 237.5 L418.3 237.5 L418.8 237.5 L419.3 237.1 L419.8 237.1 L420.3 237.1 L420.8 236.6 L421.3 236.6 L421.8 236.5 L422.3 236.8 L422.8 236.7 L423.3 236.7 L423.8 236.0 L424.3 236.0 L424.8 235.9 L425.3 235.8 L425.8 235.7 L426.3 235.6 L426.8 236.3 L427.3 236.2 L427.8 236.1 L428.3 236.1 L428.8 236.0 L429.3 235.9 L429.8 236.1 L430.3 235.9 L430.8 235.8 L431.3 235.5 L431.8 235.3 L432.3 235.1 L432.8 234.5 L433.3 234.2 L433.8 234.0 L434.3 233.1 L434.8 232.8 L435.3 233.1 L435.8 232.8 L436.3 232.5 L436.8 232.2 L437.3 231.8 L437.8 231.4 L438.3 231.0 L438.8 230.5 L439.3 230.0 L439.8 229.4 L440.3 228.7 L440.8 228.0 L441.3 227.2 L441.8 226.4 L442.3 225.6 L442.8 224.7 L443.3 223.8 L443.8 222.8 L444.3 221.8 L444.8 220.6 L445.3 219.3 L445.8 217.9 L446.3 216.5 L446.8 214.9 L447.3 213.2 L447.8 211.4 L448.3 209.6 L448.8 207.7 L449.3 205.6 L449.8 203.2 L450.3 200.6 L450.8 197.8 L451.3 195.0 L451.8 192.1 L452.3 189.3 L452.8 186.6 L453.3 183.6 L453.8 180.5 L454.3 177.5 L454.8 174.8 L455.3 172.5 L455.8 170.8 L456.3 169.2 L456.8 167.8 L457.3 166.7 L457.8 166.0 L458.3 165.9 L458.8 166.3 L459.3 167.1 L459.8 168.2 L460.3 169.3 L460.8 170.7 L461.3 172.7 L461.8 175.4 L462.3 178.3 L462.8 181.2 L463.3 183.7 L463.8 186.1 L464.3 188.5 L464.8 190.9 L465.3 193.2 L465.8 195.4 L466.3 197.3 L466.8 199.1 L467.3 200.9 L467.8 202.5 L468.3 204.1 L468.8 205.6 L469.3 206.9 L469.8 208.1 L470.3 209.2 L470.8 210.2 L471.3 211.1 L471.8 212.0 L472.3 212.8 L472.8 213.5 L473.3 214.1 L473.8 214.7 L474.3 215.2 L474.8 215.6 L475.3 216.1 L475.8 216.5 L476.3 216.9 L476.8 217.2 L477.3 217.5 L477.8 217.8 L478.3 218.1 L478.8 218.3 L479.3 218.4 L479.8 218.6 L480.3 218.8 L480.8 218.9 L481.3 219.1 L481.8 219.2 L482.3 219.3 L482.8 219.4 L483.3 219.5 L483.8 219.6 L484.3 219.7 L484.8 219.8 L485.3 219.8 L485.8 219.9 L486.3 219.9 L486.8 219.9 L487.3 220.0 L487.8 220.0 L488.3 220.0 L488.8 220.1 L489.3 220.1 L489.8 220.1 L490.3 220.2 L490.8 220.2 L491.3 220.2 L491.8 220.2 L492.3 220.3 L492.8 220.3 L493.3 220.3 L493.8 220.3 L494.3 220.3 L494.8 220.3 L495.3 220.3 L495.8 220.3 L496.3 220.3 L496.8 220.3 L497.3 220.3 L497.8 220.3 L498.3 220.3 L498.8 220.3 L499.3 220.3 L499.8 220.3 L500.3 220.3 L500.8 220.3 L501.3 220.3 L501.8 220.3 L502.3 220.2 L502.8 220.2 L503.3 220.2 L503.8 220.2 L504.3 220.2 L504.8 220.2 L505.3 220.2 L505.8 220.2 L506.3 220.2 L506.8 220.2 L507.3 220.1 L507.8 220.1 L508.3 220.1 L508.8 220.1 L509.3 220.1 L509.8 220.1 L510.3 220.1 L510.8 220.1 L511.3 220.1 L511.8 220.0 L512.3 220.0 L512.8 220.0 L513.3 220.0 L513.8 220.0 L514.3 220.0 L514.8 220.0 L515.3 219.9 L515.8 219.9 L516.3 219.9 L516.8 219.9 L517.3 219.9 L517.8 219.9 L518.3 219.9 L518.8 219.8 L519.3 219.8 L519.8 219.8 L520.3 219.8 L520.8 219.8 L521.3 219.8 L521.8 219.8 L522.3 219.7 L522.8 219.7 L523.3 219.7 L523.8 219.7 L524.3 219.7 L524.8 219.7 L525.3 219.6 L525.8 219.6 L526.3 219.6 L526.8 219.6 L527.3 219.6 L527.8 219.5 L528.3 219.5 L528.8 219.5 L529.3 219.5 L529.8 219.4 L530.3 219.4 L530.8 219.4 L531.3 219.4 L531.8 219.3 L532.3 219.3 L532.8 219.3 L533.3 219.3 L533.8 219.2 L534.3 219.2 L534.8 219.2 L535.3 219.2 L535.8 219.1 L536.3 219.1 L536.8 219.1 L537.3 219.0 L537.8 219.0 L538.3 219.0 L538.8 218.9 L539.3 218.9 L539.8 218.9 L540.3 218.9 L540.8 218.8 L541.3 218.8 L541.8 218.8 L542.3 218.7 L542.8 218.7 L543.3 218.7 L543.8 218.6 L544.3 218.6 L544.8 218.5 L545.3 218.5 L545.8 218.5 L546.3 218.4 L546.8 218.3 L547.3 218.3 L547.8 218.2 L548.3 218.2 L548.8 218.1 L549.3 218.0 L549.8 217.9 L550.3 217.8 L550.8 217.7 L551.3 217.3 L551.8 216.9 L552.3 216.5 L552.8 216.0 L553.3 215.6 L553.8 215.4 L554.3 215.3 L554.8 215.7 L555.3 216.3 L555.8 217.1 L556.3 217.6 L556.8 217.8 L557.3 217.8 L557.8 217.8 L558.3 217.7 L558.8 217.7 L559.3 217.7 L559.8 217.6 L560.3 217.5 L560.8 217.5 L561.3 217.4 L561.8 217.3 L562.3 217.2 L562.8 217.1 L563.3 217.0 L563.8 216.9 L564.3 216.8 L564.8 216.7 L565.3 216.5 L565.8 216.4 L566.3 216.3 L566.8 216.1 L567.3 215.8 L567.8 215.6 L568.3 215.3 L568.8 215.0 L569.3 214.7 L569.8 214.4 L570.3 214.1 L570.8 213.8 L571.3 213.5 L571.8 213.2 L572.3 212.9 L572.8 212.6 L573.3 212.2 L573.8 211.8 L574.3 211.4 L574.8 210.9 L575.3 210.5 L575.8 209.9 L576.3 209.4 L576.8 208.8 L577.3 208.1 L577.8 207.5 L578.3 206.8 L578.8 206.1 L579.3 205.4 L579.8 204.6 L580.3 203.8 L580.8 203.0 L581.3 202.1 L581.8 201.2 L582.3 200.3 L582.8 199.3 L583.3 198.2 L583.8 197.2 L584.3 196.1 L584.8 195.0 L585.3 193.8 L585.8 192.7 L586.3 191.5 L586.8 190.2 L587.3 188.9 L587.8 187.6 L588.3 186.2 L588.8 184.8 L589.3 183.4 L589.8 181.9 L590.3 180.5 L590.8 178.9 L591.3 177.4 L591.8 175.8 L592.3 174.2 L592.8 172.5 L593.3 170.8 L593.8 169.0 L594.3 167.2 L594.8 165.4 L595.3 163.6 L595.8 161.7 L596.3 159.9 L596.8 158.2 L597.3 156.4 L597.8 154.7 L598.3 153.0 L598.8 151.3 L599.3 149.6 L599.8 147.9 L600.3 146.2 L600.8 144.5 L601.3 142.8 L601.8 141.1 L602.3 139.3 L602.8 137.5 L603.3 135.6 L603.8 133.7 L604.3 131.7 L604.8 129.6 L605.3 127.6 L605.8 125.5 L606.3 123.4 L606.8 121.4 L607.3 119.4 L607.8 117.4 L608.3 115.4 L608.8 113.6 L609.3 111.7 L609.8 109.9 L610.3 108.1 L610.8 106.4 L611.3 104.7 L611.8 102.9 L612.3 101.2 L612.8 99.5 L613.3 97.8 L613.8 96.0 L614.3 94.3 L614.8 92.5 L615.3 90.8 L615.8 89.0 L616.3 87.3 L616.8 85.5 L617.3 83.8 L617.8 82.0 L618.3 80.3 L618.8 78.5 L619.3 76.8 L619.8 75.0 L620.3 73.2 L620.8 71.5 L621.3 69.7 L621.8 68.0 L622.3 66.2 L622.8 64.5 L623.3 62.7 L623.8 61.0 L624.3 59.2 L624.8 57.5 L625.3 55.7 L625.8 53.9 L626.3 52.2 L626.8 50.4 L627.3 48.7 L627.8 46.9 L628.3 45.1 L628.8 43.3 L629.3 41.6 L629.8 39.8 L630.3 38.1 L630.8 36.4 L631.3 34.6 L631.8 32.9 L632.3 31.2 L632.8 29.6 L633.3 27.9 L633.8 26.2 L634.3 24.6 L634.8 22.9 L635.3 21.3 L635.7 20.0" fill="none" stroke="#d40008" stroke-width="1.75" stroke-linejoin="round" stroke-linecap="round" clip-path="url(#clipa)"/>
<path d="M56.3 531.5 L56.8 531.5 L57.3 531.5 L57.8 531.5 L58.3 531.5 L58.8 531.5 L59.3 531.5 L59.8 531.5 L60.3 531.5 L60.8 531.5 L61.3 531.5 L61.8 531.5 L62.3 531.5 L62.8 531.5 L63.3 531.5 L63.8 531.5 L64.3 531.5 L64.8 531.5 L65.3 531.5 L65.8 531.5 L66.3 531.5 L66.8 531.5 L67.3 531.5 L67.8 531.5 L68.3 531.5 L68.8 531.5 L69.3 531.5 L69.8 531.5 L70.3 531.5 L70.8 531.5 L71.3 531.5 L71.8 531.5 L72.3 531.5 L72.8 531.5 L73.3 531.5 L73.8 531.5 L74.3 531.5 L74.8 531.5 L75.3 531.5 L75.8 531.5 L76.3 531.5 L76.8 531.5 L77.3 531.5 L77.8 531.5 L78.3 531.4 L78.8 531.4 L79.3 531.4 L79.8 531.4 L80.3 531.4 L80.8 531.4 L81.3 531.4 L81.8 531.4 L82.3 531.4 L82.8 531.4 L83.3 531.4 L83.8 531.4 L84.3 531.4 L84.8 531.4 L85.3 531.4 L85.8 531.4 L86.3 531.4 L86.8 531.4 L87.3 531.4 L87.8 531.4 L88.3 531.4 L88.8 531.4 L89.3 531.4 L89.8 531.4 L90.3 531.4 L90.8 531.4 L91.3 531.4 L91.8 531.4 L92.3 531.3 L92.8 531.3 L93.3 531.3 L93.8 531.3 L94.3 531.3 L94.8 531.3 L95.3 531.3 L95.8 531.3 L96.3 531.3 L96.8 531.3 L97.3 531.3 L97.8 531.3 L98.3 531.3 L98.8 531.3 L99.3 531.2 L99.8 531.2 L100.3 531.2 L100.8 531.2 L101.3 531.1 L101.8 531.1 L102.3 531.0 L102.8 531.0 L103.3 530.9 L103.8 530.9 L104.3 530.8 L104.8 530.8 L105.3 530.7 L105.8 530.6 L106.3 530.6 L106.8 530.5 L107.3 530.4 L107.8 530.3 L108.3 530.2 L108.8 530.2 L109.3 530.1 L109.8 530.0 L110.3 529.8 L110.8 529.6 L111.3 529.4 L111.8 529.1 L112.3 528.8 L112.8 528.4 L113.3 528.0 L113.8 527.6 L114.3 527.2 L114.8 526.8 L115.3 526.3 L115.8 525.9 L116.3 525.4 L116.8 524.9 L117.3 524.3 L117.8 523.7 L118.3 523.0 L118.8 522.3 L119.3 521.6 L119.8 520.8 L120.3 520.0 L120.8 519.2 L121.3 518.4 L121.8 517.5 L122.3 516.6 L122.8 515.6 L123.3 514.6 L123.8 513.5 L124.3 512.4 L124.8 511.2 L125.3 510.1 L125.8 508.8 L126.3 507.5 L126.8 506.0 L127.3 504.6 L127.8 503.0 L128.3 501.4 L128.8 499.8 L129.3 498.1 L129.8 496.4 L130.3 494.7 L130.8 492.9 L131.3 491.1 L131.8 489.1 L132.3 487.2 L132.8 485.1 L133.3 483.0 L133.8 480.9 L134.3 478.7 L134.8 476.4 L135.3 474.0 L135.8 471.5 L136.3 468.9 L136.8 466.2 L137.3 463.5 L137.8 460.8 L138.3 457.9 L138.8 455.1 L139.3 452.3 L139.8 449.4 L140.3 446.4 L140.8 443.4 L141.3 440.3 L141.8 437.2 L142.3 434.1 L142.8 431.1 L143.3 428.1 L143.8 425.1 L144.3 422.3 L144.8 419.5 L145.3 416.7 L145.8 413.9 L146.3 411.1 L146.8 408.4 L147.3 405.8 L147.8 403.3 L148.3 400.9 L148.8 398.5 L149.3 396.3 L149.8 394.1 L150.3 392.0 L150.8 389.9 L151.3 387.9 L151.8 386.0 L152.3 384.1 L152.8 382.3 L153.3 380.5 L153.8 378.8 L154.3 377.2 L154.8 375.5 L155.3 373.9 L155.8 372.3 L156.3 370.8 L156.8 369.4 L157.3 368.1 L157.8 366.9 L158.3 365.8 L158.8 364.7 L159.3 363.7 L159.8 362.7 L160.3 361.8 L160.8 361.0 L161.3 360.2 L161.8 359.4 L162.3 358.8 L162.8 358.3 L163.3 357.8 L163.8 357.4 L164.3 357.0 L164.8 356.6 L165.3 356.2 L165.8 356.0 L166.3 355.8 L166.8 355.7 L167.3 355.7 L167.8 355.8 L168.3 355.9 L168.8 356.1 L169.3 356.3 L169.8 356.6 L170.3 356.9 L170.8 357.2 L171.3 357.5 L171.8 357.9 L172.3 358.2 L172.8 358.6 L173.3 359.2 L173.8 359.8 L174.3 360.5 L174.8 361.2 L175.3 362.0 L175.8 362.9 L176.3 363.7 L176.8 364.6 L177.3 365.6 L177.8 366.7 L178.3 367.9 L178.8 369.1 L179.3 370.4 L179.8 371.8 L180.3 373.1 L180.8 374.5 L181.3 375.8 L181.8 377.2 L182.3 378.5 L182.8 379.9 L183.3 381.3 L183.8 382.7 L184.3 384.2 L184.8 385.6 L185.3 387.1 L185.8 388.6 L186.3 390.1 L186.8 391.5 L187.3 393.0 L187.8 394.5 L188.3 396.0 L188.8 397.6 L189.3 399.1 L189.8 400.7 L190.3 402.2 L190.8 403.8 L191.3 405.3 L191.8 406.9 L192.3 408.4 L192.8 410.0 L193.3 411.5 L193.8 413.0 L194.3 414.5 L194.8 416.0 L195.3 417.6 L195.8 419.1 L196.3 420.6 L196.8 422.1 L197.3 423.6 L197.8 425.0 L198.3 426.5 L198.8 428.0 L199.3 429.4 L199.8 430.9 L200.3 432.3 L200.8 433.8 L201.3 435.2 L201.8 436.6 L202.3 438.0 L202.8 439.4 L203.3 440.8 L203.8 442.2 L204.3 443.6 L204.8 444.9 L205.3 446.3 L205.8 447.6 L206.3 448.9 L206.8 450.2 L207.3 451.5 L207.8 452.8 L208.3 454.0 L208.8 455.3 L209.3 456.5 L209.8 457.7 L210.3 459.0 L210.8 460.2 L211.3 461.3 L211.8 462.5 L212.3 463.7 L212.8 464.8 L213.3 466.0 L213.8 467.1 L214.3 468.3 L214.8 469.4 L215.3 470.5 L215.8 471.6 L216.3 472.7 L216.8 473.7 L217.3 474.7 L217.8 475.7 L218.3 476.7 L218.8 477.6 L219.3 478.5 L219.8 479.4 L220.3 480.3 L220.8 481.1 L221.3 482.0 L221.8 482.8 L222.3 483.5 L222.8 484.2 L223.3 484.9 L223.8 485.4 L224.3 486.0 L224.8 486.6 L225.3 487.2 L225.8 487.7 L226.3 488.0 L226.8 488.3 L227.3 488.3 L227.8 488.1 L228.3 487.7 L228.8 487.1 L229.3 486.5 L229.8 485.9 L230.3 485.2 L230.8 484.5 L231.3 483.5 L231.8 482.5 L232.3 481.3 L232.8 480.2 L233.3 479.0 L233.8 477.9 L234.3 476.9 L234.8 476.1 L235.3 475.4 L235.8 474.7 L236.3 474.1 L236.8 473.4 L237.3 472.9 L237.8 472.4 L238.3 472.1 L238.8 471.9 L239.3 471.9 L239.8 472.2 L240.3 472.5 L240.8 472.9 L241.3 473.3 L241.8 473.6 L242.3 474.0 L242.8 474.5 L243.3 474.9 L243.8 475.4 L244.3 475.9 L244.8 476.5 L245.3 477.1 L245.8 477.8 L246.3 478.5 L246.8 479.2 L247.3 479.9 L247.8 480.6 L248.3 481.4 L248.8 482.2 L249.3 483.0 L249.8 483.9 L250.3 484.7 L250.8 485.6 L251.3 486.5 L251.8 487.3 L252.3 488.2 L252.8 489.0 L253.3 489.7 L253.8 490.5 L254.3 491.2 L254.8 491.9 L255.3 492.7 L255.8 493.4 L256.3 494.0 L256.8 494.7 L257.3 495.3 L257.8 495.9 L258.3 496.5 L258.8 497.0 L259.3 497.5 L259.8 498.1 L260.3 498.6 L260.8 499.0 L261.3 499.5 L261.8 499.9 L262.3 500.4 L262.8 500.8 L263.3 501.1 L263.8 501.5 L264.3 501.8 L264.8 502.2 L265.3 502.5 L265.8 502.8 L266.3 503.1 L266.8 503.4 L267.3 503.7 L267.8 504.0 L268.3 504.2 L268.8 504.4 L269.3 504.6 L269.8 504.8 L270.3 505.0 L270.8 505.2 L271.3 505.4 L271.8 505.6 L272.3 505.7 L272.8 505.9 L273.3 506.1 L273.8 506.4 L274.3 506.6 L274.8 506.8 L275.3 507.1 L275.8 507.4 L276.3 507.7 L276.8 508.0 L277.3 508.3 L277.8 508.6 L278.3 508.9 L278.8 509.2 L279.3 509.5 L279.8 509.9 L280.3 510.2 L280.8 510.5 L281.3 510.8 L281.8 511.2 L282.3 511.5 L282.8 511.9 L283.3 512.2 L283.8 512.6 L284.3 513.0 L284.8 513.4 L285.3 513.8 L285.8 514.2 L286.3 514.5 L286.8 514.9 L287.3 515.3 L287.8 515.7 L288.3 516.0 L288.8 516.3 L289.3 516.7 L289.8 517.0 L290.3 517.2 L290.8 517.5 L291.3 517.7 L291.8 518.0 L292.3 518.2 L292.8 518.4 L293.3 518.6 L293.8 518.8 L294.3 519.1 L294.8 519.3 L295.3 519.4 L295.8 519.6 L296.3 519.8 L296.8 520.0 L297.3 520.1 L297.8 520.3 L298.3 520.5 L298.8 520.6 L299.3 520.8 L299.8 520.9 L300.3 521.0 L300.8 521.2 L301.3 521.3 L301.8 521.4 L302.3 521.5 L302.8 521.6 L303.3 521.7 L303.8 521.8 L304.3 521.9 L304.8 522.0 L305.3 522.1 L305.8 522.2 L306.3 522.3 L306.8 522.4 L307.3 522.4 L307.8 522.5 L308.3 522.6 L308.8 522.7 L309.3 522.8 L309.8 522.9 L310.3 523.0 L310.8 523.1 L311.3 523.2 L311.8 523.3 L312.3 523.4 L312.8 523.5 L313.3 523.6 L313.8 523.7 L314.3 523.8 L314.8 523.9 L315.3 524.0 L315.8 524.2 L316.3 524.3 L316.8 524.4 L317.3 524.5 L317.8 524.6 L318.3 524.7 L318.8 524.8 L319.3 524.9 L319.8 525.0 L320.3 525.1 L320.8 525.2 L321.3 525.3 L321.8 525.4 L322.3 525.4 L322.8 525.5 L323.3 525.6 L323.8 525.7 L324.3 525.7 L324.8 525.8 L325.3 525.9 L325.8 525.9 L326.3 526.0 L326.8 526.0 L327.3 526.1 L327.8 526.2 L328.3 526.2 L328.8 526.3 L329.3 526.4 L329.8 526.4 L330.3 526.5 L330.8 526.5 L331.3 526.6 L331.8 526.6 L332.3 526.6 L332.8 526.7 L333.3 526.7 L333.8 526.7 L334.3 526.8 L334.8 526.8 L335.3 526.8 L335.8 526.8 L336.3 526.8 L336.8 526.8 L337.3 526.8 L337.8 526.8 L338.3 526.8 L338.8 526.8 L339.3 526.7 L339.8 526.7 L340.3 526.7 L340.8 526.7 L341.3 526.7 L341.8 526.6 L342.3 526.6 L342.8 526.6 L343.3 526.5 L343.8 526.5 L344.3 526.5 L344.8 526.5 L345.3 526.4 L345.8 526.4 L346.3 526.4 L346.8 526.3 L347.3 526.3 L347.8 526.2 L348.3 526.2 L348.8 526.2 L349.3 526.1 L349.8 526.1 L350.3 526.0 L350.8 526.0 L351.3 525.9 L351.8 525.9 L352.3 525.8 L352.8 525.7 L353.3 525.7 L353.8 525.6 L354.3 525.5 L354.8 525.4 L355.3 525.4 L355.8 525.3 L356.3 525.2 L356.8 525.1 L357.3 525.1 L357.8 525.0 L358.3 524.9 L358.8 524.9 L359.3 524.8 L359.8 524.7 L360.3 524.7 L360.8 524.6 L361.3 524.6 L361.8 524.5 L362.3 524.5 L362.8 524.4 L363.3 524.4 L363.8 524.3 L364.3 524.3 L364.8 524.2 L365.3 524.2 L365.8 524.1 L366.3 524.1 L366.8 524.1 L367.3 524.0 L367.8 524.0 L368.3 523.9 L368.8 523.9 L369.3 523.8 L369.8 523.8 L370.3 523.8 L370.8 523.7 L371.3 523.7 L371.8 523.6 L372.3 523.6 L372.8 523.6 L373.3 523.5 L373.8 523.5 L374.3 523.5 L374.8 523.5 L375.3 523.4 L375.8 523.4 L376.3 523.4 L376.8 523.4 L377.3 523.4 L377.8 523.4 L378.3 523.4 L378.8 523.3 L379.3 523.3 L379.8 523.3 L380.3 523.3 L380.8 523.3 L381.3 523.3 L381.8 523.3 L382.3 523.3 L382.8 523.3 L383.3 523.2 L383.8 523.2 L384.3 523.2 L384.8 523.2 L385.3 523.2 L385.8 523.2 L386.3 523.2 L386.8 523.2 L387.3 523.2 L387.8 523.2 L388.3 523.2 L388.8 523.1 L389.3 523.1 L389.8 523.1 L390.3 523.1 L390.8 523.1 L391.3 523.1 L391.8 523.1 L392.3 523.1 L392.8 523.1 L393.3 523.1 L393.8 523.1 L394.3 523.1 L394.8 523.1 L395.3 523.1 L395.8 523.1 L396.3 523.1 L396.8 523.1 L397.3 523.1 L397.8 523.1 L398.3 523.2 L398.8 523.2 L399.3 523.2 L399.8 523.2 L400.3 523.3 L400.8 523.3 L401.3 523.4 L401.8 523.4 L402.3 523.4 L402.8 523.5 L403.3 523.5 L403.8 523.6 L404.3 523.6 L404.8 523.7 L405.3 523.7 L405.8 523.8 L406.3 523.8 L406.8 523.9 L407.3 524.0 L407.8 524.0 L408.3 524.1 L408.8 524.1 L409.3 524.2 L409.8 524.2 L410.3 524.3 L410.8 524.3 L411.3 524.4 L411.8 524.4 L412.3 524.5 L412.8 524.5 L413.3 524.6 L413.8 524.6 L414.3 524.7 L414.8 524.7 L415.3 524.8 L415.8 524.8 L416.3 524.9 L416.8 525.0 L417.3 525.0 L417.8 525.1 L418.3 525.1 L418.8 525.2 L419.3 525.2 L419.8 525.3 L420.3 525.3 L420.8 525.4 L421.3 525.5 L421.8 525.5 L422.3 525.6 L422.8 525.6 L423.3 525.7 L423.8 525.7 L424.3 525.7 L424.8 525.8 L425.3 525.8 L425.8 525.9 L426.3 525.9 L426.8 525.9 L427.3 526.0 L427.8 526.0 L428.3 526.0 L428.8 526.1 L429.3 526.1 L429.8 526.2 L430.3 526.2 L430.8 526.2 L431.3 526.3 L431.8 526.3 L432.3 526.3 L432.8 526.4 L433.3 526.4 L433.8 526.4 L434.3 526.4 L434.8 526.4 L435.3 526.5 L435.8 526.5 L436.3 526.5 L436.8 526.5 L437.3 526.5 L437.8 526.5 L438.3 526.5 L438.8 526.5 L439.3 526.4 L439.8 526.4 L440.3 526.3 L440.8 526.3 L441.3 526.2 L441.8 526.1 L442.3 526.0 L442.8 525.9 L443.3 525.8 L443.8 525.6 L444.3 525.5 L444.8 525.4 L445.3 525.2 L445.8 525.0 L446.3 524.7 L446.8 524.3 L447.3 523.8 L447.8 523.3 L448.3 522.8 L448.8 522.3 L449.3 521.7 L449.8 521.2 L450.3 520.7 L450.8 520.2 L451.3 519.6 L451.8 519.1 L452.3 518.5 L452.8 518.0 L453.3 517.5 L453.8 517.1 L454.3 516.7 L454.8 516.3 L455.3 516.0 L455.8 515.6 L456.3 515.3 L456.8 515.1 L457.3 514.9 L457.8 514.7 L458.3 514.7 L458.8 514.8 L459.3 514.9 L459.8 515.2 L460.3 515.5 L460.8 515.8 L461.3 516.2 L461.8 516.6 L462.3 516.9 L462.8 517.3 L463.3 517.6 L463.8 518.1 L464.3 518.5 L464.8 519.0 L465.3 519.5 L465.8 520.0 L466.3 520.5 L466.8 520.9 L467.3 521.3 L467.8 521.6 L468.3 521.8 L468.8 522.1 L469.3 522.4 L469.8 522.6 L470.3 522.9 L470.8 523.1 L471.3 523.3 L471.8 523.4 L472.3 523.5 L472.8 523.5 L473.3 523.5 L473.8 523.4 L474.3 523.2 L474.8 523.1 L475.3 522.8 L475.8 522.6 L476.3 522.3 L476.8 522.1 L477.3 521.7 L477.8 521.4 L478.3 521.0 L478.8 520.5 L479.3 520.0 L479.8 519.3 L480.3 518.5 L480.8 517.7 L481.3 516.9 L481.8 515.9 L482.3 514.7 L482.8 513.3 L483.3 511.8 L483.8 510.2 L484.3 508.5 L484.8 506.8 L485.3 505.2 L485.8 503.5 L486.3 501.7 L486.8 499.8 L487.3 498.0 L487.8 496.5 L488.3 495.2 L488.8 494.2 L489.3 493.2 L489.8 492.4 L490.3 491.6 L490.8 491.0 L491.3 490.4 L491.8 489.9 L492.3 489.4 L492.8 489.0 L493.3 488.5 L493.8 488.2 L494.3 487.9 L494.8 487.7 L495.3 487.6 L495.8 487.7 L496.3 488.0 L496.8 488.5 L497.3 489.1 L497.8 489.6 L498.3 490.2 L498.8 490.9 L499.3 491.7 L499.8 492.4 L500.3 492.7 L500.8 492.3 L501.3 491.3 L501.8 489.9 L502.3 488.6 L502.8 487.6 L503.3 486.8 L503.8 486.0 L504.3 485.3 L504.8 484.8 L505.3 484.6 L505.8 484.7 L506.3 485.1 L506.8 485.7 L507.3 486.3 L507.8 487.0 L508.3 487.6 L508.8 488.2 L509.3 488.8 L509.8 489.4 L510.3 490.0 L510.8 490.6 L511.3 491.1 L511.8 491.6 L512.3 492.0 L512.8 492.3 L513.3 492.6 L513.8 493.0 L514.3 493.4 L514.8 493.9 L515.3 494.4 L515.8 494.9 L516.3 495.3 L516.8 495.5 L517.3 495.4 L517.8 495.2 L518.3 494.8 L518.8 494.3 L519.3 493.7 L519.8 493.2 L520.3 492.6 L520.8 492.2 L521.3 491.8 L521.8 491.3 L522.3 490.9 L522.8 490.5 L523.3 490.1 L523.8 489.9 L524.3 489.8 L524.8 489.8 L525.3 489.9 L525.8 490.0 L526.3 490.1 L526.8 490.3 L527.3 490.4 L527.8 490.6 L528.3 490.8 L528.8 491.1 L529.3 491.5 L529.8 491.8 L530.3 492.0 L530.8 491.9 L531.3 491.4 L531.8 490.6 L532.3 489.7 L532.8 489.0 L533.3 488.7 L533.8 489.1 L534.3 489.9 L534.8 490.8 L535.3 491.3 L535.8 491.2 L536.3 490.4 L536.8 488.9 L537.3 486.9 L537.8 483.3 L538.3 476.7 L538.8 470.0 L539.3 463.5 L539.8 457.2 L540.3 453.0 L540.8 450.3 L541.3 448.2 L541.8 446.7 L542.3 445.8 L542.8 445.2 L543.3 444.4 L543.8 443.0 L544.3 440.7 L544.8 437.7 L545.3 434.5 L545.8 430.7 L546.3 426.5 L546.8 422.3 L547.3 418.0 L547.8 413.1 L548.3 409.9 L548.8 409.4 L549.3 409.3 L549.8 409.1 L550.3 407.9 L550.8 404.2 L551.3 399.4 L551.8 392.3 L552.3 384.8 L552.8 378.7 L553.3 372.7 L553.8 369.2 L554.3 370.6 L554.8 375.2 L555.3 379.5 L555.8 383.0 L556.3 386.4 L556.8 388.2 L557.3 387.9 L557.8 386.6 L558.3 384.6 L558.8 382.3 L559.3 378.7 L559.8 374.1 L560.3 370.8 L560.8 368.5 L561.3 366.9 L561.8 367.0 L562.3 370.6 L562.8 375.8 L563.3 381.4 L563.8 388.5 L564.3 396.0 L564.8 403.4 L565.3 411.2 L565.8 419.7 L566.3 429.3 L566.8 439.1 L567.3 447.7 L567.8 455.7 L568.3 460.6 L568.8 463.3 L569.3 466.9 L569.8 473.6 L570.3 481.0 L570.8 487.7 L571.3 494.0 L571.8 498.1 L572.3 501.1 L572.8 503.1 L573.3 503.5 L573.8 503.1 L574.3 502.5 L574.8 501.7 L575.3 500.9 L575.8 500.2 L576.3 499.6 L576.8 498.9 L577.3 498.3 L577.8 497.7 L578.3 497.2 L578.8 496.7 L579.3 496.3 L579.8 495.9 L580.3 495.6 L580.8 495.4 L581.3 495.3 L581.8 495.4 L582.3 495.8 L582.8 496.2 L583.3 496.8 L583.8 497.3 L584.3 497.8 L584.8 498.6 L585.3 499.4 L585.8 500.2 L586.3 501.0 L586.8 501.7 L587.3 502.0 L587.8 502.1 L588.3 502.0 L588.8 501.8 L589.3 501.5 L589.8 501.3 L590.3 501.1 L590.8 501.0 L591.3 501.1 L591.8 501.2 L592.3 501.5 L592.8 501.9 L593.3 502.2 L593.8 502.5 L594.3 502.9 L594.8 503.4 L595.3 503.8 L595.8 504.3 L596.3 504.6 L596.8 504.8 L597.3 504.9 L597.8 504.8 L598.3 504.6 L598.8 504.3 L599.3 504.0 L599.8 503.6 L600.3 503.2 L600.8 502.7 L601.3 502.1 L601.8 501.4 L602.3 500.5 L602.8 499.6 L603.3 498.5 L603.8 497.5 L604.3 496.1 L604.8 494.2 L605.3 492.5 L605.8 491.5 L606.3 491.6 L606.8 492.8 L607.3 494.4 L607.8 495.7 L608.3 496.1 L608.8 496.1 L609.3 496.0 L609.8 495.9 L610.3 495.7 L610.8 495.6 L611.3 495.4 L611.8 495.2 L612.3 494.8 L612.8 494.3 L613.3 493.8 L613.8 493.2 L614.3 492.6 L614.8 492.0 L615.3 491.3 L615.8 490.5 L616.3 489.7 L616.8 489.1 L617.3 488.7 L617.8 488.8 L618.3 489.1 L618.8 489.6 L619.3 490.1 L619.8 490.5 L620.3 490.6 L620.8 490.6 L621.3 490.4 L621.8 490.3 L622.3 490.1 L622.8 489.8 L623.3 489.5 L623.8 489.2 L624.3 488.7 L624.8 488.0 L625.3 487.0 L625.8 486.0 L626.3 484.9 L626.8 483.8 L627.3 482.3 L627.8 480.7 L628.3 479.7 L628.8 479.9 L629.3 481.3 L629.8 483.3 L630.3 485.3 L630.8 486.7 L631.3 487.8 L631.8 488.9 L632.3 489.7 L632.8 490.1 L633.3 490.0 L633.8 489.4 L634.3 488.5 L634.8 487.1 L635.0 486.5" fill="none" stroke="#1000d0" stroke-width="2.1" stroke-linejoin="round" stroke-linecap="round" clip-path="url(#clipb)"/>
<path d="M56.3 530.6 L56.8 530.6 L57.3 530.6 L57.8 530.6 L58.3 530.6 L58.8 530.6 L59.3 530.6 L59.8 530.6 L60.3 530.6 L60.8 530.6 L61.3 530.6 L61.8 530.6 L62.3 530.6 L62.8 530.6 L63.3 530.6 L63.8 530.6 L64.3 530.6 L64.8 530.6 L65.3 530.6 L65.8 530.6 L66.3 530.6 L66.8 530.6 L67.3 530.6 L67.8 530.6 L68.3 530.5 L68.8 530.5 L69.3 530.5 L69.8 530.5 L70.3 530.5 L70.8 530.5 L71.3 530.5 L71.8 530.5 L72.3 530.5 L72.8 530.5 L73.3 530.5 L73.8 530.5 L74.3 530.5 L74.8 530.5 L75.3 530.5 L75.8 530.5 L76.3 530.5 L76.8 530.4 L77.3 530.4 L77.8 530.4 L78.3 530.4 L78.8 530.4 L79.3 530.4 L79.8 530.4 L80.3 530.4 L80.8 530.4 L81.3 530.4 L81.8 530.4 L82.3 530.4 L82.8 530.3 L83.3 530.3 L83.8 530.3 L84.3 530.3 L84.8 530.3 L85.3 530.3 L85.8 530.3 L86.3 530.3 L86.8 530.3 L87.3 530.3 L87.8 530.2 L88.3 530.2 L88.8 530.2 L89.3 530.2 L89.8 530.2 L90.3 530.2 L90.8 530.2 L91.3 530.2 L91.8 530.1 L92.3 530.1 L92.8 530.1 L93.3 530.1 L93.8 530.1 L94.3 530.1 L94.8 530.1 L95.3 530.0 L95.8 530.0 L96.3 530.0 L96.8 530.0 L97.3 530.0 L97.8 530.0 L98.3 530.0 L98.8 529.9 L99.3 529.9 L99.8 529.9 L100.3 529.8 L100.8 529.8 L101.3 529.8 L101.8 529.7 L102.3 529.7 L102.8 529.6 L103.3 529.6 L103.8 529.5 L104.3 529.5 L104.8 529.4 L105.3 529.3 L105.8 529.3 L106.3 529.2 L106.8 529.1 L107.3 529.1 L107.8 529.0 L108.3 528.9 L108.8 528.8 L109.3 528.8 L109.8 528.7 L110.3 528.6 L110.8 528.5 L111.3 528.4 L111.8 528.3 L112.3 528.2 L112.8 528.1 L113.3 528.0 L113.8 527.8 L114.3 527.6 L114.8 527.4 L115.3 527.2 L115.8 526.9 L116.3 526.6 L116.8 526.4 L117.3 526.1 L117.8 525.7 L118.3 525.4 L118.8 525.1 L119.3 524.7 L119.8 524.4 L120.3 524.0 L120.8 523.7 L121.3 523.3 L121.8 523.0 L122.3 522.7 L122.8 522.3 L123.3 521.9 L123.8 521.6 L124.3 521.2 L124.8 520.8 L125.3 520.4 L125.8 519.9 L126.3 519.5 L126.8 519.1 L127.3 518.7 L127.8 518.2 L128.3 517.8 L128.8 517.3 L129.3 516.9 L129.8 516.5 L130.3 516.0 L130.8 515.6 L131.3 515.2 L131.8 514.7 L132.3 514.3 L132.8 513.9 L133.3 513.5 L133.8 513.0 L134.3 512.6 L134.8 512.1 L135.3 511.7 L135.8 511.2 L136.3 510.8 L136.8 510.4 L137.3 509.9 L137.8 509.5 L138.3 509.1 L138.8 508.7 L139.3 508.3 L139.8 507.9 L140.3 507.5 L140.8 507.2 L141.3 506.8 L141.8 506.5 L142.3 506.1 L142.8 505.8 L143.3 505.4 L143.8 505.1 L144.3 504.8 L144.8 504.5 L145.3 504.1 L145.8 503.8 L146.3 503.5 L146.8 503.2 L147.3 502.9 L147.8 502.7 L148.3 502.4 L148.8 502.2 L149.3 501.9 L149.8 501.7 L150.3 501.5 L150.8 501.3 L151.3 501.1 L151.8 500.9 L152.3 500.7 L152.8 500.5 L153.3 500.4 L153.8 500.2 L154.3 500.0 L154.8 499.8 L155.3 499.7 L155.8 499.5 L156.3 499.4 L156.8 499.3 L157.3 499.1 L157.8 499.0 L158.3 498.9 L158.8 498.8 L159.3 498.8 L159.8 498.7 L160.3 498.6 L160.8 498.6 L161.3 498.5 L161.8 498.5 L162.3 498.4 L162.8 498.4 L163.3 498.3 L163.8 498.3 L164.3 498.2 L164.8 498.2 L165.3 498.1 L165.8 498.1 L166.3 498.1 L166.8 498.1 L167.3 498.0 L167.8 498.0 L168.3 498.0 L168.8 498.0 L169.3 498.0 L169.8 498.0 L170.3 498.0 L170.8 498.0 L171.3 498.1 L171.8 498.1 L172.3 498.1 L172.8 498.1 L173.3 498.2 L173.8 498.2 L174.3 498.3 L174.8 498.3 L175.3 498.4 L175.8 498.4 L176.3 498.5 L176.8 498.5 L177.3 498.6 L177.8 498.6 L178.3 498.7 L178.8 498.7 L179.3 498.8 L179.8 498.9 L180.3 499.0 L180.8 499.1 L181.3 499.1 L181.8 499.3 L182.3 499.4 L182.8 499.5 L183.3 499.6 L183.8 499.7 L184.3 499.8 L184.8 500.0 L185.3 500.1 L185.8 500.2 L186.3 500.4 L186.8 500.5 L187.3 500.6 L187.8 500.8 L188.3 500.9 L188.8 501.0 L189.3 501.2 L189.8 501.3 L190.3 501.5 L190.8 501.6 L191.3 501.8 L191.8 502.0 L192.3 502.1 L192.8 502.3 L193.3 502.5 L193.8 502.6 L194.3 502.8 L194.8 503.0 L195.3 503.1 L195.8 503.3 L196.3 503.5 L196.8 503.7 L197.3 503.8 L197.8 504.0 L198.3 504.2 L198.8 504.3 L199.3 504.5 L199.8 504.7 L200.3 504.8 L200.8 505.0 L201.3 505.2 L201.8 505.3 L202.3 505.5 L202.8 505.6 L203.3 505.8 L203.8 506.0 L204.3 506.1 L204.8 506.3 L205.3 506.5 L205.8 506.6 L206.3 506.8 L206.8 507.0 L207.3 507.1 L207.8 507.3 L208.3 507.4 L208.8 507.6 L209.3 507.7 L209.8 507.9 L210.3 508.0 L210.8 508.2 L211.3 508.3 L211.8 508.4 L212.3 508.5 L212.8 508.7 L213.3 508.8 L213.8 508.9 L214.3 509.0 L214.8 509.1 L215.3 509.2 L215.8 509.4 L216.3 509.5 L216.8 509.6 L217.3 509.7 L217.8 509.8 L218.3 509.9 L218.8 510.1 L219.3 510.2 L219.8 510.3 L220.3 510.4 L220.8 510.4 L221.3 510.5 L221.8 510.6 L222.3 510.7 L222.8 510.7 L223.3 510.8 L223.8 510.8 L224.3 510.9 L224.8 510.9 L225.3 510.9 L225.8 510.9 L226.3 510.9 L226.8 510.8 L227.3 510.8 L227.8 510.7 L228.3 510.6 L228.8 510.5 L229.3 510.4 L229.8 510.3 L230.3 510.2 L230.8 510.1 L231.3 510.0 L231.8 509.9 L232.3 509.8 L232.8 509.7 L233.3 509.5 L233.8 509.4 L234.3 509.2 L234.8 509.1 L235.3 508.9 L235.8 508.8 L236.3 508.7 L236.8 508.5 L237.3 508.4 L237.8 508.4 L238.3 508.3 L238.8 508.3 L239.3 508.3 L239.8 508.3 L240.3 508.4 L240.8 508.4 L241.3 508.5 L241.8 508.5 L242.3 508.6 L242.8 508.7 L243.3 508.8 L243.8 508.9 L244.3 509.0 L244.8 509.1 L245.3 509.2 L245.8 509.3 L246.3 509.5 L246.8 509.6 L247.3 509.7 L247.8 509.8 L248.3 509.9 L248.8 510.0 L249.3 510.2 L249.8 510.3 L250.3 510.5 L250.8 510.6 L251.3 510.8 L251.8 510.9 L252.3 511.1 L252.8 511.3 L253.3 511.5 L253.8 511.7 L254.3 511.9 L254.8 512.0 L255.3 512.2 L255.8 512.4 L256.3 512.6 L256.8 512.8 L257.3 513.0 L257.8 513.1 L258.3 513.3 L258.8 513.5 L259.3 513.6 L259.8 513.7 L260.3 513.9 L260.8 514.0 L261.3 514.1 L261.8 514.2 L262.3 514.3 L262.8 514.4 L263.3 514.5 L263.8 514.6 L264.3 514.7 L264.8 514.8 L265.3 514.9 L265.8 515.0 L266.3 515.1 L266.8 515.2 L267.3 515.3 L267.8 515.4 L268.3 515.5 L268.8 515.6 L269.3 515.6 L269.8 515.7 L270.3 515.8 L270.8 515.9 L271.3 516.0 L271.8 516.1 L272.3 516.1 L272.8 516.2 L273.3 516.3 L273.8 516.4 L274.3 516.5 L274.8 516.5 L275.3 516.6 L275.8 516.7 L276.3 516.8 L276.8 516.9 L277.3 517.0 L277.8 517.0 L278.3 517.1 L278.8 517.2 L279.3 517.3 L279.8 517.4 L280.3 517.5 L280.8 517.6 L281.3 517.7 L281.8 517.8 L282.3 517.9 L282.8 518.0 L283.3 518.1 L283.8 518.2 L284.3 518.3 L284.8 518.4 L285.3 518.4 L285.8 518.5 L286.3 518.6 L286.8 518.7 L287.3 518.8 L287.8 518.8 L288.3 518.9 L288.8 519.0 L289.3 519.0 L289.8 519.1 L290.3 519.2 L290.8 519.2 L291.3 519.2 L291.8 519.3 L292.3 519.3 L292.8 519.3 L293.3 519.4 L293.8 519.4 L294.3 519.4 L294.8 519.4 L295.3 519.5 L295.8 519.5 L296.3 519.5 L296.8 519.5 L297.3 519.6 L297.8 519.6 L298.3 519.6 L298.8 519.6 L299.3 519.6 L299.8 519.7 L300.3 519.7 L300.8 519.7 L301.3 519.7 L301.8 519.7 L302.3 519.7 L302.8 519.8 L303.3 519.8 L303.8 519.8 L304.3 519.8 L304.8 519.8 L305.3 519.8 L305.8 519.8 L306.3 519.9 L306.8 519.9 L307.3 519.9 L307.8 519.9 L308.3 519.9 L308.8 519.9 L309.3 519.9 L309.8 520.0 L310.3 520.0 L310.8 520.0 L311.3 520.0 L311.8 520.0 L312.3 520.0 L312.8 520.0 L313.3 520.0 L313.8 520.0 L314.3 520.1 L314.8 520.1 L315.3 520.1 L315.8 520.1 L316.3 520.1 L316.8 520.1 L317.3 520.1 L317.8 520.1 L318.3 520.1 L318.8 520.2 L319.3 520.2 L319.8 520.2 L320.3 520.2 L320.8 520.2 L321.3 520.2 L321.8 520.2 L322.3 520.3 L322.8 520.3 L323.3 520.3 L323.8 520.3 L324.3 520.3 L324.8 520.4 L325.3 520.4 L325.8 520.4 L326.3 520.5 L326.8 520.5 L327.3 520.6 L327.8 520.6 L328.3 520.6 L328.8 520.7 L329.3 520.7 L329.8 520.8 L330.3 520.8 L330.8 520.9 L331.3 521.0 L331.8 521.0 L332.3 521.1 L332.8 521.1 L333.3 521.2 L333.8 521.2 L334.3 521.3 L334.8 521.4 L335.3 521.4 L335.8 521.5 L336.3 521.5 L336.8 521.6 L337.3 521.7 L337.8 521.7 L338.3 521.8 L338.8 521.9 L339.3 521.9 L339.8 522.0 L340.3 522.1 L340.8 522.2 L341.3 522.3 L341.8 522.3 L342.3 522.4 L342.8 522.5 L343.3 522.6 L343.8 522.7 L344.3 522.8 L344.8 522.8 L345.3 522.9 L345.8 523.0 L346.3 523.1 L346.8 523.2 L347.3 523.2 L347.8 523.3 L348.3 523.4 L348.8 523.4 L349.3 523.5 L349.8 523.6 L350.3 523.7 L350.8 523.7 L351.3 523.8 L351.8 523.9 L352.3 523.9 L352.8 524.0 L353.3 524.1 L353.8 524.2 L354.3 524.2 L354.8 524.3 L355.3 524.4 L355.8 524.4 L356.3 524.5 L356.8 524.6 L357.3 524.6 L357.8 524.7 L358.3 524.7 L358.8 524.8 L359.3 524.8 L359.8 524.9 L360.3 524.9 L360.8 525.0 L361.3 525.0 L361.8 525.1 L362.3 525.1 L362.8 525.1 L363.3 525.2 L363.8 525.2 L364.3 525.3 L364.8 525.3 L365.3 525.3 L365.8 525.4 L366.3 525.4 L366.8 525.5 L367.3 525.5 L367.8 525.5 L368.3 525.6 L368.8 525.6 L369.3 525.6 L369.8 525.7 L370.3 525.7 L370.8 525.7 L371.3 525.7 L371.8 525.8 L372.3 525.8 L372.8 525.8 L373.3 525.8 L373.8 525.9 L374.3 525.9 L374.8 525.9 L375.3 525.9 L375.8 525.9 L376.3 525.9 L376.8 525.9 L377.3 525.9 L377.8 525.9 L378.3 525.9 L378.8 525.9 L379.3 525.9 L379.8 525.9 L380.3 525.9 L380.8 525.9 L381.3 525.9 L381.8 525.9 L382.3 525.9 L382.8 525.9 L383.3 525.9 L383.8 525.9 L384.3 525.9 L384.8 525.9 L385.3 525.9 L385.8 525.9 L386.3 525.9 L386.8 525.9 L387.3 525.9 L387.8 525.9 L388.3 525.9 L388.8 525.9 L389.3 525.9 L389.8 525.9 L390.3 525.9 L390.8 525.9 L391.3 525.9 L391.8 525.9 L392.3 525.9 L392.8 525.9 L393.3 525.9 L393.8 525.9 L394.3 525.9 L394.8 525.8 L395.3 525.8 L395.8 525.8 L396.3 525.8 L396.8 525.7 L397.3 525.7 L397.8 525.7 L398.3 525.6 L398.8 525.6 L399.3 525.5 L399.8 525.5 L400.3 525.5 L400.8 525.4 L401.3 525.4 L401.8 525.3 L402.3 525.3 L402.8 525.2 L403.3 525.2 L403.8 525.1 L404.3 525.1 L404.8 525.0 L405.3 525.0 L405.8 525.0 L406.3 524.9 L406.8 524.9 L407.3 524.8 L407.8 524.8 L408.3 524.8 L408.8 524.8 L409.3 524.7 L409.8 524.7 L410.3 524.7 L410.8 524.7 L411.3 524.6 L411.8 524.6 L412.3 524.6 L412.8 524.6 L413.3 524.6 L413.8 524.6 L414.3 524.5 L414.8 524.5 L415.3 524.5 L415.8 524.5 L416.3 524.5 L416.8 524.5 L417.3 524.4 L417.8 524.4 L418.3 524.4 L418.8 524.4 L419.3 524.4 L419.8 524.3 L420.3 524.3 L420.8 524.3 L421.3 524.3 L421.8 524.2 L422.3 524.2 L422.8 524.2 L423.3 524.1 L423.8 524.1 L424.3 524.1 L424.8 524.0 L425.3 524.0 L425.8 523.9 L426.3 523.9 L426.8 523.8 L427.3 523.7 L427.8 523.6 L428.3 523.5 L428.8 523.4 L429.3 523.3 L429.8 523.2 L430.3 523.1 L430.8 522.9 L431.3 522.8 L431.8 522.6 L432.3 522.4 L432.8 522.2 L433.3 522.0 L433.8 521.6 L434.3 521.2 L434.8 520.8 L435.3 520.3 L435.8 519.8 L436.3 519.2 L436.8 518.6 L437.3 518.1 L437.8 517.4 L438.3 516.7 L438.8 515.9 L439.3 515.0 L439.8 514.1 L440.3 513.2 L440.8 512.4 L441.3 511.6 L441.8 510.9 L442.3 510.2 L442.8 509.5 L443.3 508.9 L443.8 508.4 L444.3 508.2 L444.8 508.3 L445.3 508.6 L445.8 509.2 L446.3 509.8 L446.8 510.5 L447.3 511.1 L447.8 511.7 L448.3 512.3 L448.8 513.0 L449.3 513.7 L449.8 514.4 L450.3 515.0 L450.8 515.5 L451.3 515.9 L451.8 516.3 L452.3 516.6 L452.8 516.9 L453.3 517.2 L453.8 517.4 L454.3 517.6 L454.8 517.7 L455.3 517.7 L455.8 517.7 L456.3 517.6 L456.8 517.6 L457.3 517.5 L457.8 517.4 L458.3 517.4 L458.8 517.3 L459.3 517.2 L459.8 517.2 L460.3 517.2 L460.8 517.2 L461.3 517.3 L461.8 517.3 L462.3 517.4 L462.8 517.5 L463.3 517.7 L463.8 517.8 L464.3 517.9 L464.8 518.1 L465.3 518.2 L465.8 518.4 L466.3 518.6 L466.8 518.9 L467.3 519.1 L467.8 519.4 L468.3 519.7 L468.8 520.1 L469.3 520.4 L469.8 520.7 L470.3 520.9 L470.8 521.2 L471.3 521.4 L471.8 521.6 L472.3 521.8 L472.8 522.0 L473.3 522.2 L473.8 522.4 L474.3 522.6 L474.8 522.8 L475.3 522.9 L475.8 523.0 L476.3 523.2 L476.8 523.2 L477.3 523.3 L477.8 523.3 L478.3 523.3 L478.8 523.3 L479.3 523.3 L479.8 523.3 L480.3 523.3 L480.8 523.3 L481.3 523.3 L481.8 523.3 L482.3 523.1 L482.8 522.7 L483.3 522.3 L483.8 521.8 L484.3 521.3 L484.8 520.8 L485.3 520.3 L485.8 519.8 L486.3 519.3 L486.8 518.8 L487.3 518.2 L487.8 517.7 L488.3 517.2 L488.8 516.7 L489.3 516.2 L489.8 515.7 L490.3 515.2 L490.8 514.7 L491.3 514.2 L491.8 513.8 L492.3 513.4 L492.8 513.1 L493.3 512.8 L493.8 512.7 L494.3 512.7 L494.8 512.7 L495.3 512.7 L495.8 512.7 L496.3 512.7 L496.8 512.7 L497.3 512.7 L497.8 512.7 L498.3 512.7 L498.8 512.7 L499.3 512.7 L499.8 512.7 L500.3 512.7 L500.8 512.7 L501.3 512.6 L501.8 512.5 L502.3 512.5 L502.8 512.3 L503.3 512.2 L503.8 512.2 L504.3 512.1 L504.8 512.0 L505.3 512.0 L505.8 512.0 L506.3 512.0 L506.8 512.0 L507.3 512.0 L507.8 512.1 L508.3 512.1 L508.8 512.1 L509.3 512.1 L509.8 512.1 L510.3 512.1 L510.8 512.2 L511.3 512.2 L511.8 512.2 L512.3 512.2 L512.8 512.2 L513.3 512.2 L513.8 512.1 L514.3 512.0 L514.8 511.8 L515.3 511.6 L515.8 511.3 L516.3 511.1 L516.8 510.8 L517.3 510.5 L517.8 510.3 L518.3 510.0 L518.8 509.7 L519.3 509.3 L519.8 508.9 L520.3 508.6 L520.8 508.2 L521.3 507.7 L521.8 507.3 L522.3 506.9 L522.8 506.6 L523.3 506.2 L523.8 505.7 L524.3 505.3 L524.8 504.8 L525.3 504.4 L525.8 504.1 L526.3 503.9 L526.8 503.9 L527.3 503.9 L527.8 503.9 L528.3 503.9 L528.8 503.9 L529.3 503.9 L529.8 503.9 L530.3 503.9 L530.8 503.9 L531.3 503.8 L531.8 503.7 L532.3 503.6 L532.8 503.4 L533.3 503.2 L533.8 503.0 L534.3 502.8 L534.8 502.5 L535.3 502.3 L535.8 501.9 L536.3 501.5 L536.8 500.9 L537.3 500.2 L537.8 499.5 L538.3 498.8 L538.8 498.2 L539.3 497.6 L539.8 497.0 L540.3 496.4 L540.8 495.8 L541.3 495.3 L541.8 494.7 L542.3 494.3 L542.8 494.0 L543.3 493.7 L543.8 493.5 L544.3 493.3 L544.8 493.2 L545.3 493.0 L545.8 492.9 L546.3 492.8 L546.8 492.6 L547.3 492.5 L547.8 492.3 L548.3 492.1 L548.8 491.8 L549.3 491.6 L549.8 491.3 L550.3 491.0 L550.8 490.6 L551.3 490.1 L551.8 489.1 L552.3 487.7 L552.8 486.5 L553.3 486.0 L553.8 486.2 L554.3 486.8 L554.8 487.4 L555.3 487.9 L555.8 487.9 L556.3 487.8 L556.8 487.6 L557.3 487.4 L557.8 487.3 L558.3 487.3 L558.8 487.5 L559.3 487.7 L559.8 488.0 L560.3 488.4 L560.8 488.8 L561.3 489.6 L561.8 490.9 L562.3 492.4 L562.8 494.0 L563.3 495.6 L563.8 496.9 L564.3 498.5 L564.8 500.0 L565.3 501.4 L565.8 502.5 L566.3 503.1 L566.8 503.4 L567.3 503.8 L567.8 504.0 L568.3 504.2 L568.8 504.3 L569.3 504.3 L569.8 504.2 L570.3 504.2 L570.8 504.0 L571.3 503.9 L571.8 503.8 L572.3 503.5 L572.8 503.2 L573.3 502.9 L573.8 502.6 L574.3 502.4 L574.8 502.5 L575.3 502.8 L575.8 503.3 L576.3 504.0 L576.8 504.7 L577.3 505.3 L577.8 506.1 L578.3 507.0 L578.8 507.9 L579.3 508.8 L579.8 509.7 L580.3 510.4 L580.8 511.2 L581.3 512.0 L581.8 512.7 L582.3 513.2 L582.8 513.4 L583.3 513.5 L583.8 513.6 L584.3 513.6 L584.8 513.7 L585.3 513.7 L585.8 513.8 L586.3 513.8 L586.8 513.9 L587.3 514.1 L587.8 514.4 L588.3 514.7 L588.8 515.1 L589.3 515.6 L589.8 516.0 L590.3 516.4 L590.8 516.7 L591.3 516.9 L591.8 517.1 L592.3 517.3 L592.8 517.5 L593.3 517.7 L593.8 517.8 L594.3 517.9 L594.8 518.0 L595.3 518.0 L595.8 518.0 L596.3 518.0 L596.8 517.9 L597.3 517.9 L597.8 517.8 L598.3 517.8 L598.8 517.7 L599.3 517.7 L599.8 517.6 L600.3 517.5 L600.8 517.5 L601.3 517.4 L601.8 517.3 L602.3 517.3 L602.8 517.2 L603.3 517.2 L603.8 517.2 L604.3 517.1 L604.8 517.1 L605.3 517.1 L605.8 517.1 L606.3 517.0 L606.8 517.0 L607.3 517.0 L607.8 517.0 L608.3 516.9 L608.8 516.9 L609.3 516.9 L609.8 516.8 L610.3 516.8 L610.8 516.8 L611.3 516.7 L611.8 516.7 L612.3 516.6 L612.8 516.4 L613.3 516.3 L613.8 516.1 L614.3 515.9 L614.8 515.7 L615.3 515.5 L615.8 515.3 L616.3 515.1 L616.8 514.9 L617.3 514.8 L617.8 514.6 L618.3 514.5 L618.8 514.4 L619.3 514.3 L619.8 514.2 L620.3 514.2 L620.8 514.1 L621.3 514.0 L621.8 514.0 L622.3 513.9 L622.8 513.8 L623.3 513.8 L623.8 513.7 L624.3 513.6 L624.8 513.5 L625.3 513.4 L625.8 513.2 L626.3 513.0 L626.8 512.7 L627.3 512.4 L627.8 512.1 L628.3 511.9 L628.8 511.8 L629.3 511.7 L629.8 511.8 L630.3 512.0 L630.8 512.3 L631.3 512.6 L631.8 512.8 L632.3 512.8 L632.8 512.8 L633.3 512.8 L633.8 512.8 L634.3 512.7 L634.8 512.6 L635.0 512.6" fill="none" stroke="#d40008" stroke-width="2.1" stroke-linejoin="round" stroke-linecap="round" clip-path="url(#clipb)"/>
<path d="M56.2 818.0 L56.7 818.0 L57.2 818.1 L57.7 818.1 L58.2 818.2 L58.7 818.2 L59.2 818.3 L59.7 818.3 L60.2 818.4 L60.7 818.4 L61.2 818.5 L61.7 818.5 L62.2 818.6 L62.7 818.6 L63.2 818.7 L63.7 818.7 L64.2 818.7 L64.7 818.8 L65.2 818.8 L65.7 818.9 L66.2 818.9 L66.7 818.9 L67.2 819.0 L67.7 819.0 L68.2 819.1 L68.7 819.1 L69.2 819.1 L69.7 819.2 L70.2 819.2 L70.7 819.2 L71.2 819.2 L71.7 819.3 L72.2 819.3 L72.7 819.3 L73.2 819.3 L73.7 819.4 L74.2 819.4 L74.7 819.4 L75.2 819.4 L75.7 819.4 L76.2 819.5 L76.7 819.5 L77.2 819.5 L77.7 819.5 L78.2 819.5 L78.7 819.5 L79.2 819.5 L79.7 819.5 L80.2 819.5 L80.7 819.5 L81.2 819.5 L81.7 819.6 L82.2 819.6 L82.7 819.6 L83.2 819.6 L83.7 819.6 L84.2 819.6 L84.7 819.6 L85.2 819.6 L85.7 819.6 L86.2 819.6 L86.7 819.6 L87.2 819.6 L87.7 819.6 L88.2 819.6 L88.7 819.6 L89.2 819.6 L89.7 819.6 L90.2 819.7 L90.7 819.7 L91.2 819.7 L91.7 819.7 L92.2 819.7 L92.7 819.7 L93.2 819.7 L93.7 819.7 L94.2 819.7 L94.7 819.7 L95.2 819.7 L95.7 819.7 L96.2 819.7 L96.7 819.7 L97.2 819.7 L97.7 819.7 L98.2 819.7 L98.7 819.7 L99.2 819.7 L99.7 819.7 L100.2 819.7 L100.7 819.7 L101.2 819.7 L101.7 819.6 L102.2 819.6 L102.7 819.5 L103.2 819.5 L103.7 819.4 L104.2 819.3 L104.7 819.2 L105.2 819.0 L105.7 818.9 L106.2 818.8 L106.7 818.6 L107.2 818.5 L107.7 818.3 L108.2 818.1 L108.7 817.9 L109.2 817.6 L109.7 817.3 L110.2 817.0 L110.7 816.6 L111.2 816.1 L111.7 815.7 L112.2 815.2 L112.7 814.7 L113.2 814.2 L113.7 813.6 L114.2 813.0 L114.7 812.4 L115.2 811.6 L115.7 810.8 L116.2 810.0 L116.7 809.0 L117.2 808.1 L117.7 807.0 L118.2 805.9 L118.7 804.8 L119.2 803.7 L119.7 802.6 L120.2 801.4 L120.7 800.1 L121.2 798.8 L121.7 797.5 L122.2 796.0 L122.7 794.5 L123.2 793.0 L123.7 791.4 L124.2 789.8 L124.7 788.1 L125.2 786.3 L125.7 784.6 L126.2 782.7 L126.7 780.8 L127.2 778.8 L127.7 776.7 L128.2 774.6 L128.7 772.4 L129.2 770.2 L129.7 767.9 L130.2 765.6 L130.7 763.3 L131.2 761.0 L131.7 758.7 L132.2 756.3 L132.7 753.9 L133.2 751.5 L133.7 749.0 L134.2 746.4 L134.7 743.9 L135.2 741.3 L135.7 738.7 L136.2 736.1 L136.7 733.5 L137.2 730.9 L137.7 728.2 L138.2 725.4 L138.7 722.7 L139.2 719.9 L139.7 717.1 L140.2 714.3 L140.7 711.5 L141.2 708.7 L141.7 705.9 L142.2 703.2 L142.7 700.4 L143.2 697.6 L143.7 694.8 L144.2 692.0 L144.7 689.2 L145.2 686.4 L145.7 683.6 L146.2 680.8 L146.7 678.1 L147.2 675.4 L147.7 672.8 L148.2 670.3 L148.7 667.7 L149.2 665.2 L149.7 662.7 L150.2 660.2 L150.7 657.8 L151.2 655.4 L151.7 653.0 L152.2 650.7 L152.7 648.5 L153.2 646.4 L153.7 644.4 L154.2 642.4 L154.7 640.5 L155.2 638.6 L155.7 636.7 L156.2 634.9 L156.7 633.2 L157.2 631.5 L157.7 629.9 L158.2 628.3 L158.7 626.8 L159.2 625.3 L159.7 623.9 L160.2 622.5 L160.7 621.2 L161.2 619.9 L161.7 618.7 L162.2 617.5 L162.7 616.3 L163.2 615.2 L163.7 614.2 L164.2 613.2 L164.7 612.3 L165.2 611.4 L165.7 610.6 L166.2 609.9 L166.7 609.2 L167.2 608.5 L167.7 607.8 L168.2 607.1 L168.7 606.4 L169.2 605.7 L169.7 604.9 L170.2 604.1 L170.7 603.3 L171.2 602.5 L171.7 601.7 L172.2 600.9 L172.7 600.2 L173.2 599.4 L173.7 598.8 L174.2 598.1 L174.7 597.6 L175.2 597.1 L175.7 596.5 L176.2 596.1 L176.7 595.7 L177.2 595.4 L177.7 595.4 L178.2 595.9 L178.7 596.7 L179.2 597.8 L179.7 599.0 L180.2 600.5 L180.7 602.6 L181.2 605.1 L181.7 607.8 L182.2 610.6 L182.7 613.2 L183.2 615.5 L183.7 617.5 L184.2 619.4 L184.7 621.2 L185.2 623.0 L185.7 624.8 L186.2 626.4 L186.7 628.1 L187.2 629.7 L187.7 631.3 L188.2 632.9 L188.7 634.4 L189.2 635.8 L189.7 637.3 L190.2 638.6 L190.7 640.0 L191.2 641.4 L191.7 642.7 L192.2 644.1 L192.7 645.5 L193.2 647.0 L193.7 648.5 L194.2 650.0 L194.7 651.7 L195.2 653.4 L195.7 655.1 L196.2 656.9 L196.7 658.7 L197.2 660.6 L197.7 662.4 L198.2 664.2 L198.7 666.0 L199.2 667.7 L199.7 669.4 L200.2 671.2 L200.7 672.9 L201.2 674.7 L201.7 676.5 L202.2 678.3 L202.7 680.0 L203.2 681.7 L203.7 683.2 L204.2 684.7 L204.7 686.1 L205.2 687.3 L205.7 688.4 L206.2 689.4 L206.7 690.4 L207.2 691.2 L207.7 692.0 L208.2 692.8 L208.7 693.6 L209.2 694.4 L209.7 695.3 L210.2 696.3 L210.7 697.3 L211.2 698.5 L211.7 699.8 L212.2 701.2 L212.7 702.8 L213.2 704.4 L213.7 706.1 L214.2 707.8 L214.7 709.4 L215.2 711.0 L215.7 712.6 L216.2 714.1 L216.7 715.7 L217.2 717.2 L217.7 718.8 L218.2 720.3 L218.7 721.8 L219.2 723.2 L219.7 724.7 L220.2 726.2 L220.7 727.7 L221.2 729.2 L221.7 730.6 L222.2 731.8 L222.7 732.8 L223.2 733.7 L223.7 734.4 L224.2 735.0 L224.7 735.5 L225.2 736.0 L225.7 736.4 L226.2 736.7 L226.7 736.9 L227.2 736.8 L227.7 736.2 L228.2 735.4 L228.7 734.4 L229.2 733.2 L229.7 731.1 L230.2 728.6 L230.7 726.1 L231.2 723.3 L231.7 720.3 L232.2 717.8 L232.7 716.0 L233.2 714.5 L233.7 713.4 L234.2 712.8 L234.7 712.4 L235.2 712.0 L235.7 711.1 L236.2 709.7 L236.7 707.9 L237.2 705.7 L237.7 702.8 L238.2 700.6 L238.7 698.8 L239.2 698.9 L239.7 700.3 L240.2 702.5 L240.7 707.0 L241.2 711.3 L241.7 714.8 L242.2 717.7 L242.7 719.8 L243.2 721.5 L243.7 722.6 L244.2 723.3 L244.7 723.7 L245.2 724.1 L245.7 724.6 L246.2 725.1 L246.7 725.8 L247.2 726.5 L247.7 727.3 L248.2 728.1 L248.7 729.0 L249.2 730.0 L249.7 731.1 L250.2 732.3 L250.7 733.7 L251.2 735.5 L251.7 737.6 L252.2 739.9 L252.7 742.2 L253.2 744.6 L253.7 747.0 L254.2 749.1 L254.7 750.9 L255.2 752.5 L255.7 754.0 L256.2 755.4 L256.7 756.7 L257.2 758.0 L257.7 759.1 L258.2 760.1 L258.7 761.0 L259.2 761.9 L259.7 762.7 L260.2 763.5 L260.7 764.3 L261.2 765.0 L261.7 765.7 L262.2 766.3 L262.7 767.0 L263.2 767.6 L263.7 768.2 L264.2 768.7 L264.7 769.3 L265.2 769.8 L265.7 770.3 L266.2 770.8 L266.7 771.3 L267.2 771.7 L267.7 772.2 L268.2 772.6 L268.7 773.0 L269.2 773.4 L269.7 773.8 L270.2 774.2 L270.7 774.6 L271.2 775.0 L271.7 775.4 L272.2 775.8 L272.7 776.2 L273.2 776.6 L273.7 777.0 L274.2 777.4 L274.7 777.8 L275.2 778.2 L275.7 778.6 L276.2 779.0 L276.7 779.4 L277.2 779.9 L277.7 780.3 L278.2 780.7 L278.7 781.1 L279.2 781.6 L279.7 782.0 L280.2 782.5 L280.7 782.9 L281.2 783.4 L281.7 783.8 L282.2 784.3 L282.7 784.7 L283.2 785.2 L283.7 785.6 L284.2 786.1 L284.7 786.5 L285.2 787.0 L285.7 787.4 L286.2 787.9 L286.7 788.3 L287.2 788.7 L287.7 789.2 L288.2 789.6 L288.7 790.0 L289.2 790.4 L289.7 790.8 L290.2 791.2 L290.7 791.6 L291.2 791.9 L291.7 792.3 L292.2 792.6 L292.7 793.0 L293.2 793.3 L293.7 793.6 L294.2 793.9 L294.7 794.2 L295.2 794.5 L295.7 794.8 L296.2 795.1 L296.7 795.4 L297.2 795.6 L297.7 795.9 L298.2 796.1 L298.7 796.4 L299.2 796.6 L299.7 796.9 L300.2 797.1 L300.7 797.3 L301.2 797.6 L301.7 797.8 L302.2 798.0 L302.7 798.2 L303.2 798.4 L303.7 798.6 L304.2 798.8 L304.7 799.0 L305.2 799.1 L305.7 799.3 L306.2 799.5 L306.7 799.7 L307.2 799.8 L307.7 800.0 L308.2 800.2 L308.7 800.3 L309.2 800.5 L309.7 800.7 L310.2 800.8 L310.7 801.0 L311.2 801.2 L311.7 801.4 L312.2 801.5 L312.7 801.7 L313.2 801.9 L313.7 802.1 L314.2 802.3 L314.7 802.5 L315.2 802.8 L315.7 803.0 L316.2 803.2 L316.7 803.4 L317.2 803.7 L317.7 803.9 L318.2 804.1 L318.7 804.4 L319.2 804.6 L319.7 804.8 L320.2 805.0 L320.7 805.2 L321.2 805.5 L321.7 805.7 L322.2 805.8 L322.7 806.0 L323.2 806.2 L323.7 806.4 L324.2 806.5 L324.7 806.7 L325.2 806.9 L325.7 807.0 L326.2 807.2 L326.7 807.3 L327.2 807.4 L327.7 807.6 L328.2 807.7 L328.7 807.9 L329.2 808.0 L329.7 808.1 L330.2 808.3 L330.7 808.4 L331.2 808.5 L331.7 808.7 L332.2 808.8 L332.7 809.0 L333.2 809.1 L333.7 809.2 L334.2 809.4 L334.7 809.5 L335.2 809.7 L335.7 809.9 L336.2 810.0 L336.7 810.2 L337.2 810.4 L337.7 810.6 L338.2 810.8 L338.7 811.0 L339.2 811.2 L339.7 811.4 L340.2 811.6 L340.7 811.8 L341.2 811.9 L341.7 812.1 L342.2 812.2 L342.7 812.3 L343.2 812.5 L343.7 812.6 L344.2 812.7 L344.7 812.8 L345.2 812.9 L345.7 813.0 L346.2 813.1 L346.7 813.2 L347.2 813.3 L347.7 813.4 L348.2 813.5 L348.7 813.5 L349.2 813.6 L349.7 813.7 L350.2 813.8 L350.7 813.8 L351.2 813.9 L351.7 814.0 L352.2 814.0 L352.7 814.1 L353.2 814.1 L353.7 814.2 L354.2 814.2 L354.7 814.3 L355.2 814.3 L355.7 814.3 L356.2 814.4 L356.7 814.4 L357.2 814.4 L357.7 814.4 L358.2 814.5 L358.7 814.5 L359.2 814.5 L359.7 814.5 L360.2 814.5 L360.7 814.6 L361.2 814.6 L361.7 814.6 L362.2 814.6 L362.7 814.6 L363.2 814.6 L363.7 814.7 L364.2 814.7 L364.7 814.7 L365.2 814.7 L365.7 814.7 L366.2 814.7 L366.7 814.8 L367.2 814.8 L367.7 814.8 L368.2 814.8 L368.7 814.9 L369.2 814.9 L369.7 814.9 L370.2 814.9 L370.7 814.9 L371.2 815.0 L371.7 815.0 L372.2 815.0 L372.7 815.0 L373.2 815.1 L373.7 815.1 L374.2 815.1 L374.7 815.1 L375.2 815.2 L375.7 815.2 L376.2 815.2 L376.7 815.3 L377.2 815.3 L377.7 815.3 L378.2 815.4 L378.7 815.4 L379.2 815.4 L379.7 815.5 L380.2 815.5 L380.7 815.5 L381.2 815.6 L381.7 815.6 L382.2 815.7 L382.7 815.7 L383.2 815.8 L383.7 815.8 L384.2 815.9 L384.7 815.9 L385.2 816.0 L385.7 816.1 L386.2 816.1 L386.7 816.2 L387.2 816.3 L387.7 816.3 L388.2 816.4 L388.7 816.4 L389.2 816.5 L389.7 816.6 L390.2 816.7 L390.7 816.7 L391.2 816.8 L391.7 816.9 L392.2 816.9 L392.7 817.0 L393.2 817.1 L393.7 817.1 L394.2 817.2 L394.7 817.2 L395.2 817.3 L395.7 817.4 L396.2 817.4 L396.7 817.5 L397.2 817.6 L397.7 817.6 L398.2 817.7 L398.7 817.8 L399.2 817.8 L399.7 817.9 L400.2 818.0 L400.7 818.0 L401.2 818.1 L401.7 818.2 L402.2 818.3 L402.7 818.3 L403.2 818.4 L403.7 818.5 L404.2 818.5 L404.7 818.6 L405.2 818.6 L405.7 818.7 L406.2 818.8 L406.7 818.8 L407.2 818.9 L407.7 818.9 L408.2 819.0 L408.7 819.0 L409.2 819.0 L409.7 819.1 L410.2 819.1 L410.7 819.1 L411.2 819.1 L411.7 819.2 L412.2 819.2 L412.7 819.2 L413.2 819.2 L413.7 819.3 L414.2 819.3 L414.7 819.3 L415.2 819.3 L415.7 819.4 L416.2 819.4 L416.7 819.4 L417.2 819.4 L417.7 819.4 L418.2 819.5 L418.7 819.5 L419.2 819.5 L419.7 819.5 L420.2 819.5 L420.7 819.5 L421.2 819.6 L421.7 819.6 L422.2 819.6 L422.7 819.6 L423.2 819.6 L423.7 819.6 L424.2 819.6 L424.7 819.6 L425.2 819.6 L425.7 819.6 L426.2 819.6 L426.7 819.6 L427.2 819.5 L427.7 819.5 L428.2 819.5 L428.7 819.4 L429.2 819.3 L429.7 819.3 L430.2 819.2 L430.7 819.1 L431.2 819.0 L431.7 818.9 L432.2 818.8 L432.7 818.7 L433.2 818.5 L433.7 818.3 L434.2 818.0 L434.7 817.6 L435.2 817.1 L435.7 816.4 L436.2 815.4 L436.7 814.3 L437.2 813.2 L437.7 812.0 L438.2 810.6 L438.7 809.1 L439.2 807.6 L439.7 806.2 L440.2 805.1 L440.7 804.3 L441.2 803.7 L441.7 803.1 L442.2 802.3 L442.7 801.4 L443.2 800.1 L443.7 798.2 L444.2 796.0 L444.7 793.4 L445.2 790.6 L445.7 787.6 L446.2 784.2 L446.7 780.4 L447.2 776.3 L447.7 771.6 L448.2 766.6 L448.7 760.7 L449.2 753.6 L449.7 745.6 L450.2 737.1 L450.7 728.4 L451.2 720.0 L451.7 711.4 L452.2 702.3 L452.7 693.3 L453.2 684.5 L453.7 676.5 L454.2 669.0 L454.7 661.6 L455.2 655.1 L455.7 650.3 L456.2 646.6 L456.7 643.4 L457.2 641.5 L457.7 641.8 L458.2 644.2 L458.7 647.9 L459.2 652.2 L459.7 657.3 L460.2 664.1 L460.7 671.7 L461.2 679.3 L461.7 685.8 L462.2 692.0 L462.7 698.0 L463.2 703.7 L463.7 708.8 L464.2 713.4 L464.7 717.9 L465.2 722.0 L465.7 725.3 L466.2 727.5 L466.7 729.2 L467.2 730.6 L467.7 731.5 L468.2 731.8 L468.7 730.9 L469.2 729.2 L469.7 727.0 L470.2 724.8 L470.7 722.5 L471.2 719.5 L471.7 716.7 L472.2 714.8 L472.7 713.5 L473.2 712.5 L473.7 712.0 L474.2 712.6 L474.7 714.6 L475.2 717.3 L475.7 720.3 L476.2 723.7 L476.7 727.9 L477.2 732.3 L477.7 736.6 L478.2 740.3 L478.7 744.0 L479.2 747.5 L479.7 750.8 L480.2 753.6 L480.7 756.0 L481.2 758.2 L481.7 760.1 L482.2 761.8 L482.7 763.0 L483.2 764.2 L483.7 765.1 L484.2 765.5 L484.7 765.0 L485.2 763.6 L485.7 761.9 L486.2 760.0 L486.7 757.7 L487.2 754.8 L487.7 752.1 L488.2 750.1 L488.7 748.4 L489.2 746.9 L489.7 746.0 L490.2 745.9 L490.7 746.6 L491.2 747.4 L491.7 747.7 L492.2 746.9 L492.7 745.4 L493.2 743.6 L493.7 741.9 L494.2 740.0 L494.7 737.9 L495.2 735.9 L495.7 734.3 L496.2 732.9 L496.7 731.6 L497.2 730.6 L497.7 730.0 L498.2 730.2 L498.7 731.6 L499.2 733.7 L499.7 735.6 L500.2 736.9 L500.7 737.6 L501.2 738.1 L501.7 738.6 L502.2 739.3 L502.7 740.6 L503.2 742.6 L503.7 744.8 L504.2 746.8 L504.7 748.2 L505.2 749.3 L505.7 750.3 L506.2 751.2 L506.7 751.9 L507.2 752.4 L507.7 752.6 L508.2 752.7 L508.7 752.8 L509.2 752.9 L509.7 753.0 L510.2 753.1 L510.7 753.2 L511.2 753.3 L511.7 753.4 L512.2 753.5 L512.7 753.6 L513.2 753.7 L513.7 753.9 L514.2 754.1 L514.7 754.5 L515.2 755.4 L515.7 756.3 L516.2 757.4 L516.7 758.4 L517.2 759.2 L517.7 760.2 L518.2 761.2 L518.7 762.1 L519.2 762.6 L519.7 762.8 L520.2 762.5 L520.7 761.9 L521.2 761.1 L521.7 760.2 L522.2 759.1 L522.7 757.9 L523.2 756.1 L523.7 754.1 L524.2 752.7 L524.7 752.1 L525.2 751.6 L525.7 751.4 L526.2 751.4 L526.7 752.1 L527.2 753.3 L527.7 754.7 L528.2 756.0 L528.7 757.1 L529.2 758.2 L529.7 759.3 L530.2 760.3 L530.7 761.4 L531.2 762.4 L531.7 763.3 L532.2 764.2 L532.7 765.2 L533.2 766.2 L533.7 767.7 L534.2 770.0 L534.7 772.5 L535.2 774.1 L535.7 773.4 L536.2 769.1 L536.7 763.3 L537.2 757.9 L537.7 752.2 L538.2 746.3 L538.7 740.8 L539.2 736.4 L539.7 731.9 L540.2 728.0 L540.7 725.4 L541.2 724.9 L541.7 725.1 L542.2 725.4 L542.7 725.6 L543.2 725.8 L543.7 725.6 L544.2 724.8 L544.7 723.4 L545.2 721.7 L545.7 717.3 L546.2 709.7 L546.7 702.1 L547.2 696.8 L547.7 692.7 L548.2 688.7 L548.7 684.3 L549.2 678.7 L549.7 672.2 L550.2 665.2 L550.7 658.6 L551.2 652.0 L551.7 645.3 L552.2 639.7 L552.7 635.6 L553.2 631.9 L553.7 629.4 L554.2 629.1 L554.7 631.2 L555.2 634.3 L555.7 636.6 L556.2 638.1 L556.7 639.5 L557.2 640.4 L557.7 640.7 L558.2 639.5 L558.7 637.5 L559.2 635.6 L559.7 634.4 L560.2 635.0 L560.7 637.0 L561.2 640.1 L561.7 643.5 L562.2 648.1 L562.7 654.5 L563.2 661.9 L563.7 669.4 L564.2 676.6 L564.7 684.1 L565.2 691.7 L565.7 699.3 L566.2 706.6 L566.7 713.9 L567.2 721.1 L567.7 727.9 L568.2 734.2 L568.7 739.9 L569.2 745.4 L569.7 750.4 L570.2 754.9 L570.7 758.8 L571.2 762.4 L571.7 765.6 L572.2 768.5 L572.7 771.0 L573.2 773.3 L573.7 775.4 L574.2 777.2 L574.7 778.7 L575.2 779.9 L575.7 781.0 L576.2 782.0 L576.7 782.8 L577.2 783.3 L577.7 783.4 L578.2 783.3 L578.7 783.2 L579.2 783.0 L579.7 782.9 L580.2 782.8 L580.7 783.0 L581.2 783.7 L581.7 784.5 L582.2 785.2 L582.7 785.3 L583.2 785.0 L583.7 784.6 L584.2 784.2 L584.7 784.0 L585.2 783.9 L585.7 784.2 L586.2 784.7 L586.7 785.2 L587.2 785.6 L587.7 785.8 L588.2 785.8 L588.7 785.7 L589.2 785.5 L589.7 785.4 L590.2 785.3 L590.7 785.4 L591.2 785.9 L591.7 786.9 L592.2 788.1 L592.7 789.3 L593.2 790.2 L593.7 791.0 L594.2 791.9 L594.7 792.6 L595.2 793.0 L595.7 792.9 L596.2 792.3 L596.7 791.4 L597.2 790.4 L597.7 789.4 L598.2 788.8 L598.7 788.4 L599.2 788.1 L599.7 787.9 L600.2 787.7 L600.7 787.4 L601.2 787.1 L601.7 786.7 L602.2 786.1 L602.7 785.4 L603.2 784.6 L603.7 783.8 L604.2 783.0 L604.7 782.3 L605.2 781.8 L605.7 781.4 L606.2 781.0 L606.7 780.6 L607.2 780.3 L607.7 779.9 L608.2 779.5 L608.7 779.1 L609.2 778.6 L609.7 778.0 L610.2 777.4 L610.7 776.7 L611.2 775.9 L611.7 775.1 L612.2 774.3 L612.7 773.4 L613.2 772.6 L613.7 771.6 L614.2 770.5 L614.7 769.3 L615.2 768.2 L615.7 767.3 L616.2 766.7 L616.7 766.1 L617.2 765.5 L617.7 765.1 L618.2 765.0 L618.7 765.1 L619.2 765.3 L619.7 765.6 L620.2 765.9 L620.7 766.1 L621.2 766.1 L621.7 766.0 L622.2 765.8 L622.7 765.6 L623.2 765.3 L623.7 765.0 L624.2 764.7 L624.7 764.4 L625.2 763.9 L625.7 763.5 L626.2 763.0 L626.7 762.5 L627.2 762.0 L627.7 761.4 L628.2 760.7 L628.7 760.2 L629.2 760.0 L629.7 760.5 L630.2 761.7 L630.7 763.1 L631.2 764.1 L631.7 764.3 L632.2 764.4 L632.7 764.5 L633.2 764.6 L633.7 764.7 L634.2 764.7 L634.6 764.7" fill="none" stroke="#1000d0" stroke-width="1.95" stroke-linejoin="round" stroke-linecap="round" clip-path="url(#clipc)"/>
<path d="M56.2 802.1 L56.7 802.1 L57.2 802.2 L57.7 802.2 L58.2 802.3 L58.7 802.3 L59.2 802.3 L59.7 802.4 L60.2 802.4 L60.7 802.4 L61.2 802.5 L61.7 802.5 L62.2 802.6 L62.7 802.6 L63.2 802.6 L63.7 802.7 L64.2 802.7 L64.7 802.7 L65.2 802.8 L65.7 802.8 L66.2 802.8 L66.7 802.9 L67.2 802.9 L67.7 802.9 L68.2 803.0 L68.7 803.0 L69.2 803.0 L69.7 803.1 L70.2 803.1 L70.7 803.1 L71.2 803.1 L71.7 803.2 L72.2 803.2 L72.7 803.2 L73.2 803.3 L73.7 803.3 L74.2 803.3 L74.7 803.3 L75.2 803.4 L75.7 803.4 L76.2 803.4 L76.7 803.4 L77.2 803.5 L77.7 803.5 L78.2 803.5 L78.7 803.5 L79.2 803.6 L79.7 803.6 L80.2 803.6 L80.7 803.6 L81.2 803.7 L81.7 803.7 L82.2 803.7 L82.7 803.7 L83.2 803.8 L83.7 803.8 L84.2 803.8 L84.7 803.8 L85.2 803.8 L85.7 803.9 L86.2 803.9 L86.7 803.9 L87.2 803.9 L87.7 804.0 L88.2 804.0 L88.7 804.0 L89.2 804.0 L89.7 804.0 L90.2 804.1 L90.7 804.1 L91.2 804.1 L91.7 804.1 L92.2 804.1 L92.7 804.2 L93.2 804.2 L93.7 804.2 L94.2 804.2 L94.7 804.2 L95.2 804.2 L95.7 804.2 L96.2 804.3 L96.7 804.3 L97.2 804.3 L97.7 804.3 L98.2 804.3 L98.7 804.3 L99.2 804.3 L99.7 804.3 L100.2 804.3 L100.7 804.3 L101.2 804.3 L101.7 804.3 L102.2 804.2 L102.7 804.2 L103.2 804.1 L103.7 804.1 L104.2 804.0 L104.7 804.0 L105.2 803.9 L105.7 803.8 L106.2 803.7 L106.7 803.6 L107.2 803.5 L107.7 803.4 L108.2 803.2 L108.7 803.1 L109.2 803.0 L109.7 802.8 L110.2 802.6 L110.7 802.3 L111.2 801.9 L111.7 801.5 L112.2 801.0 L112.7 800.5 L113.2 799.9 L113.7 799.3 L114.2 798.6 L114.7 797.9 L115.2 797.2 L115.7 796.5 L116.2 795.7 L116.7 794.8 L117.2 793.7 L117.7 792.6 L118.2 791.4 L118.7 790.0 L119.2 788.7 L119.7 787.2 L120.2 785.8 L120.7 784.3 L121.2 782.8 L121.7 781.3 L122.2 779.6 L122.7 777.9 L123.2 776.1 L123.7 774.3 L124.2 772.4 L124.7 770.4 L125.2 768.4 L125.7 766.4 L126.2 764.4 L126.7 762.3 L127.2 760.3 L127.7 758.2 L128.2 756.0 L128.7 753.8 L129.2 751.6 L129.7 749.4 L130.2 747.1 L130.7 744.8 L131.2 742.4 L131.7 740.1 L132.2 737.7 L132.7 735.3 L133.2 732.9 L133.7 730.5 L134.2 728.0 L134.7 725.5 L135.2 722.9 L135.7 720.4 L136.2 717.8 L136.7 715.3 L137.2 712.7 L137.7 710.2 L138.2 707.7 L138.7 705.2 L139.2 702.6 L139.7 700.1 L140.2 697.5 L140.7 694.9 L141.2 692.4 L141.7 689.9 L142.2 687.4 L142.7 684.9 L143.2 682.5 L143.7 680.2 L144.2 677.9 L144.7 675.6 L145.2 673.4 L145.7 671.1 L146.2 668.9 L146.7 666.7 L147.2 664.6 L147.7 662.5 L148.2 660.5 L148.7 658.6 L149.2 656.8 L149.7 655.0 L150.2 653.2 L150.7 651.5 L151.2 649.8 L151.7 648.2 L152.2 646.6 L152.7 645.1 L153.2 643.6 L153.7 642.2 L154.2 640.9 L154.7 639.7 L155.2 638.5 L155.7 637.3 L156.2 636.1 L156.7 635.0 L157.2 633.9 L157.7 632.9 L158.2 632.0 L158.7 631.2 L159.2 630.4 L159.7 629.8 L160.2 629.3 L160.7 628.7 L161.2 628.2 L161.7 627.7 L162.2 627.2 L162.7 626.8 L163.2 626.4 L163.7 626.2 L164.2 626.0 L164.7 625.9 L165.2 625.9 L165.7 626.0 L166.2 626.1 L166.7 626.2 L167.2 626.4 L167.7 626.6 L168.2 626.8 L168.7 627.0 L169.2 627.3 L169.7 627.5 L170.2 627.8 L170.7 628.1 L171.2 628.5 L171.7 628.9 L172.2 629.5 L172.7 630.0 L173.2 630.6 L173.7 631.1 L174.2 631.4 L174.7 631.7 L175.2 631.8 L175.7 631.6 L176.2 631.2 L176.7 630.7 L177.2 630.2 L177.7 629.9 L178.2 629.9 L178.7 630.4 L179.2 631.4 L179.7 632.6 L180.2 634.2 L180.7 636.4 L181.2 639.1 L181.7 642.1 L182.2 645.1 L182.7 648.0 L183.2 650.5 L183.7 652.6 L184.2 654.7 L184.7 656.6 L185.2 658.5 L185.7 660.3 L186.2 662.1 L186.7 663.8 L187.2 665.6 L187.7 667.4 L188.2 669.3 L188.7 671.2 L189.2 673.1 L189.7 675.0 L190.2 676.9 L190.7 678.8 L191.2 680.7 L191.7 682.6 L192.2 684.5 L192.7 686.4 L193.2 688.4 L193.7 690.3 L194.2 692.2 L194.7 694.1 L195.2 696.0 L195.7 697.9 L196.2 699.9 L196.7 701.8 L197.2 703.7 L197.7 705.7 L198.2 707.5 L198.7 709.4 L199.2 711.2 L199.7 713.0 L200.2 714.7 L200.7 716.5 L201.2 718.3 L201.7 720.0 L202.2 721.8 L202.7 723.5 L203.2 725.1 L203.7 726.7 L204.2 728.2 L204.7 729.6 L205.2 730.8 L205.7 732.0 L206.2 733.2 L206.7 734.2 L207.2 735.2 L207.7 736.2 L208.2 737.1 L208.7 738.0 L209.2 738.9 L209.7 739.9 L210.2 740.9 L210.7 741.9 L211.2 743.0 L211.7 744.2 L212.2 745.4 L212.7 746.6 L213.2 747.9 L213.7 749.1 L214.2 750.4 L214.7 751.6 L215.2 752.9 L215.7 754.2 L216.2 755.4 L216.7 756.7 L217.2 757.9 L217.7 759.0 L218.2 760.1 L218.7 761.3 L219.2 762.4 L219.7 763.2 L220.2 763.8 L220.7 764.2 L221.2 764.6 L221.7 764.8 L222.2 764.9 L222.7 764.6 L223.2 763.8 L223.7 762.7 L224.2 760.2 L224.7 759.2 L225.2 760.7 L225.7 762.8 L226.2 764.2 L226.7 765.3 L227.2 765.3 L227.7 765.0 L228.2 764.4 L228.7 763.5 L229.2 761.9 L229.7 759.7 L230.2 756.2 L230.7 751.4 L231.2 746.3 L231.7 740.5 L232.2 734.6 L232.7 728.6 L233.2 722.5 L233.7 717.8 L234.2 714.8 L234.7 711.7 L235.2 707.5 L235.7 702.5 L236.2 696.4 L236.7 688.0 L237.2 675.7 L237.7 664.0 L238.2 653.9 L238.7 643.3 L239.2 637.7 L239.7 645.2 L240.2 655.9 L240.7 666.2 L241.2 678.1 L241.7 690.0 L242.2 698.2 L242.7 705.1 L243.2 711.6 L243.7 717.6 L244.2 722.8 L244.7 727.7 L245.2 731.1 L245.7 733.3 L246.2 735.0 L246.7 735.7 L247.2 735.4 L247.7 734.7 L248.2 733.7 L248.7 731.3 L249.2 726.5 L249.7 719.9 L250.2 711.6 L250.7 707.5 L251.2 706.1 L251.7 708.8 L252.2 716.4 L252.7 729.3 L253.2 741.4 L253.7 750.0 L254.2 756.3 L254.7 761.3 L255.2 764.9 L255.7 767.6 L256.2 769.8 L256.7 771.6 L257.2 773.3 L257.7 774.8 L258.2 776.1 L258.7 777.3 L259.2 778.2 L259.7 778.9 L260.2 779.6 L260.7 780.2 L261.2 780.7 L261.7 781.2 L262.2 781.7 L262.7 782.1 L263.2 782.5 L263.7 782.9 L264.2 783.2 L264.7 783.5 L265.2 783.9 L265.7 784.1 L266.2 784.4 L266.7 784.7 L267.2 785.0 L267.7 785.2 L268.2 785.4 L268.7 785.7 L269.2 785.9 L269.7 786.1 L270.2 786.3 L270.7 786.5 L271.2 786.7 L271.7 786.9 L272.2 787.1 L272.7 787.3 L273.2 787.4 L273.7 787.6 L274.2 787.8 L274.7 787.9 L275.2 788.1 L275.7 788.2 L276.2 788.3 L276.7 788.4 L277.2 788.6 L277.7 788.7 L278.2 788.8 L278.7 789.0 L279.2 789.1 L279.7 789.3 L280.2 789.5 L280.7 789.7 L281.2 789.9 L281.7 790.2 L282.2 790.5 L282.7 790.8 L283.2 791.1 L283.7 791.4 L284.2 791.8 L284.7 792.1 L285.2 792.5 L285.7 792.8 L286.2 793.2 L286.7 793.5 L287.2 793.9 L287.7 794.2 L288.2 794.5 L288.7 794.8 L289.2 795.1 L289.7 795.3 L290.2 795.6 L290.7 795.8 L291.2 796.0 L291.7 796.2 L292.2 796.4 L292.7 796.5 L293.2 796.7 L293.7 796.9 L294.2 797.1 L294.7 797.2 L295.2 797.4 L295.7 797.6 L296.2 797.7 L296.7 797.9 L297.2 798.0 L297.7 798.1 L298.2 798.3 L298.7 798.4 L299.2 798.5 L299.7 798.7 L300.2 798.8 L300.7 798.9 L301.2 799.0 L301.7 799.1 L302.2 799.2 L302.7 799.3 L303.2 799.4 L303.7 799.5 L304.2 799.6 L304.7 799.7 L305.2 799.8 L305.7 799.9 L306.2 799.9 L306.7 800.0 L307.2 800.1 L307.7 800.2 L308.2 800.3 L308.7 800.4 L309.2 800.4 L309.7 800.5 L310.2 800.6 L310.7 800.7 L311.2 800.8 L311.7 800.9 L312.2 801.0 L312.7 801.1 L313.2 801.2 L313.7 801.3 L314.2 801.4 L314.7 801.5 L315.2 801.6 L315.7 801.7 L316.2 801.8 L316.7 801.9 L317.2 802.0 L317.7 802.1 L318.2 802.2 L318.7 802.3 L319.2 802.4 L319.7 802.5 L320.2 802.7 L320.7 802.8 L321.2 802.9 L321.7 803.0 L322.2 803.1 L322.7 803.2 L323.2 803.3 L323.7 803.4 L324.2 803.5 L324.7 803.6 L325.2 803.7 L325.7 803.9 L326.2 804.0 L326.7 804.1 L327.2 804.2 L327.7 804.3 L328.2 804.4 L328.7 804.5 L329.2 804.6 L329.7 804.7 L330.2 804.8 L330.7 804.9 L331.2 805.0 L331.7 805.1 L332.2 805.2 L332.7 805.3 L333.2 805.4 L333.7 805.5 L334.2 805.6 L334.7 805.7 L335.2 805.8 L335.7 805.9 L336.2 806.0 L336.7 806.1 L337.2 806.2 L337.7 806.3 L338.2 806.4 L338.7 806.5 L339.2 806.6 L339.7 806.7 L340.2 806.7 L340.7 806.8 L341.2 806.9 L341.7 806.9 L342.2 807.0 L342.7 807.0 L343.2 807.1 L343.7 807.1 L344.2 807.2 L344.7 807.2 L345.2 807.3 L345.7 807.3 L346.2 807.3 L346.7 807.4 L347.2 807.4 L347.7 807.5 L348.2 807.5 L348.7 807.5 L349.2 807.6 L349.7 807.6 L350.2 807.6 L350.7 807.7 L351.2 807.7 L351.7 807.7 L352.2 807.7 L352.7 807.8 L353.2 807.8 L353.7 807.8 L354.2 807.8 L354.7 807.8 L355.2 807.8 L355.7 807.8 L356.2 807.8 L356.7 807.8 L357.2 807.8 L357.7 807.7 L358.2 807.7 L358.7 807.7 L359.2 807.7 L359.7 807.6 L360.2 807.6 L360.7 807.6 L361.2 807.6 L361.7 807.5 L362.2 807.5 L362.7 807.5 L363.2 807.4 L363.7 807.4 L364.2 807.4 L364.7 807.4 L365.2 807.3 L365.7 807.3 L366.2 807.3 L366.7 807.3 L367.2 807.3 L367.7 807.3 L368.2 807.3 L368.7 807.3 L369.2 807.3 L369.7 807.3 L370.2 807.4 L370.7 807.4 L371.2 807.4 L371.7 807.5 L372.2 807.5 L372.7 807.5 L373.2 807.6 L373.7 807.6 L374.2 807.7 L374.7 807.7 L375.2 807.8 L375.7 807.8 L376.2 807.9 L376.7 807.9 L377.2 808.0 L377.7 808.0 L378.2 808.1 L378.7 808.1 L379.2 808.2 L379.7 808.2 L380.2 808.3 L380.7 808.4 L381.2 808.4 L381.7 808.5 L382.2 808.5 L382.7 808.6 L383.2 808.6 L383.7 808.7 L384.2 808.7 L384.7 808.8 L385.2 808.9 L385.7 808.9 L386.2 809.0 L386.7 809.1 L387.2 809.1 L387.7 809.2 L388.2 809.3 L388.7 809.3 L389.2 809.4 L389.7 809.5 L390.2 809.6 L390.7 809.6 L391.2 809.7 L391.7 809.8 L392.2 809.9 L392.7 809.9 L393.2 810.0 L393.7 810.1 L394.2 810.2 L394.7 810.2 L395.2 810.3 L395.7 810.4 L396.2 810.5 L396.7 810.5 L397.2 810.6 L397.7 810.7 L398.2 810.8 L398.7 810.9 L399.2 811.0 L399.7 811.1 L400.2 811.2 L400.7 811.3 L401.2 811.4 L401.7 811.5 L402.2 811.6 L402.7 811.7 L403.2 811.8 L403.7 811.9 L404.2 812.0 L404.7 812.1 L405.2 812.1 L405.7 812.2 L406.2 812.3 L406.7 812.4 L407.2 812.5 L407.7 812.5 L408.2 812.6 L408.7 812.7 L409.2 812.7 L409.7 812.8 L410.2 812.8 L410.7 812.8 L411.2 812.9 L411.7 812.9 L412.2 812.9 L412.7 813.0 L413.2 813.0 L413.7 813.0 L414.2 813.1 L414.7 813.1 L415.2 813.1 L415.7 813.2 L416.2 813.2 L416.7 813.2 L417.2 813.3 L417.7 813.3 L418.2 813.3 L418.7 813.3 L419.2 813.4 L419.7 813.4 L420.2 813.4 L420.7 813.4 L421.2 813.4 L421.7 813.4 L422.2 813.5 L422.7 813.5 L423.2 813.5 L423.7 813.5 L424.2 813.5 L424.7 813.5 L425.2 813.5 L425.7 813.5 L426.2 813.5 L426.7 813.5 L427.2 813.4 L427.7 813.4 L428.2 813.4 L428.7 813.3 L429.2 813.3 L429.7 813.2 L430.2 813.1 L430.7 813.1 L431.2 813.0 L431.7 812.9 L432.2 812.8 L432.7 812.7 L433.2 812.5 L433.7 812.2 L434.2 811.9 L434.7 811.4 L435.2 810.7 L435.7 809.9 L436.2 807.8 L436.7 803.8 L437.2 797.0 L437.7 785.3 L438.2 772.5 L438.7 759.7 L439.2 750.1 L439.7 742.1 L440.2 739.6 L440.7 743.3 L441.2 750.2 L441.7 758.0 L442.2 769.4 L442.7 780.4 L443.2 788.1 L443.7 794.6 L444.2 798.4 L444.7 800.0 L445.2 801.2 L445.7 802.1 L446.2 802.6 L446.7 802.5 L447.2 802.1 L447.7 801.4 L448.2 800.4 L448.7 799.3 L449.2 798.2 L449.7 796.7 L450.2 794.8 L450.7 792.6 L451.2 790.0 L451.7 787.3 L452.2 784.1 L452.7 780.2 L453.2 775.6 L453.7 770.9 L454.2 766.4 L454.7 762.0 L455.2 757.5 L455.7 753.3 L456.2 749.7 L456.7 746.6 L457.2 743.9 L457.7 743.1 L458.2 744.6 L458.7 747.6 L459.2 751.1 L459.7 755.0 L460.2 760.2 L460.7 765.8 L461.2 771.1 L461.7 775.4 L462.2 779.6 L462.7 783.5 L463.2 786.9 L463.7 789.5 L464.2 791.1 L464.7 792.6 L465.2 793.8 L465.7 794.8 L466.2 795.5 L466.7 795.7 L467.2 795.6 L467.7 795.5 L468.2 795.2 L468.7 794.9 L469.2 794.5 L469.7 793.9 L470.2 792.9 L470.7 791.5 L471.2 790.0 L471.7 788.6 L472.2 787.5 L472.7 786.5 L473.2 785.6 L473.7 784.9 L474.2 784.7 L474.7 785.4 L475.2 786.8 L475.7 788.6 L476.2 790.4 L476.7 791.9 L477.2 793.3 L477.7 794.8 L478.2 796.2 L478.7 797.4 L479.2 798.3 L479.7 798.9 L480.2 799.5 L480.7 800.0 L481.2 800.3 L481.7 800.6 L482.2 800.6 L482.7 800.1 L483.2 799.2 L483.7 798.1 L484.2 796.6 L484.7 794.9 L485.2 791.8 L485.7 787.8 L486.2 783.6 L486.7 779.4 L487.2 774.4 L487.7 770.1 L488.2 768.1 L488.7 767.4 L489.2 767.0 L489.7 766.9 L490.2 767.2 L490.7 767.8 L491.2 768.4 L491.7 769.1 L492.2 769.6 L492.7 770.1 L493.2 770.6 L493.7 771.1 L494.2 771.6 L494.7 771.8 L495.2 771.7 L495.7 771.0 L496.2 770.2 L496.7 769.7 L497.2 769.8 L497.7 770.6 L498.2 771.8 L498.7 773.1 L499.2 774.0 L499.7 774.3 L500.2 773.1 L500.7 770.9 L501.2 768.3 L501.7 765.9 L502.2 763.8 L502.7 761.4 L503.2 759.5 L503.7 758.7 L504.2 759.4 L504.7 761.0 L505.2 763.1 L505.7 764.9 L506.2 766.2 L506.7 767.3 L507.2 768.4 L507.7 769.3 L508.2 770.2 L508.7 771.0 L509.2 771.7 L509.7 772.4 L510.2 773.0 L510.7 773.5 L511.2 774.1 L511.7 774.6 L512.2 775.1 L512.7 775.6 L513.2 776.0 L513.7 776.4 L514.2 776.8 L514.7 777.2 L515.2 777.6 L515.7 778.1 L516.2 778.8 L516.7 779.6 L517.2 780.4 L517.7 781.2 L518.2 781.7 L518.7 782.0 L519.2 781.9 L519.7 781.5 L520.2 781.0 L520.7 780.3 L521.2 779.6 L521.7 778.9 L522.2 777.9 L522.7 776.8 L523.2 775.7 L523.7 774.6 L524.2 773.9 L524.7 773.4 L525.2 773.0 L525.7 772.6 L526.2 772.4 L526.7 772.4 L527.2 772.8 L527.7 773.4 L528.2 774.3 L528.7 775.1 L529.2 775.9 L529.7 776.8 L530.2 777.7 L530.7 778.6 L531.2 779.1 L531.7 779.1 L532.2 778.4 L532.7 777.5 L533.2 777.0 L533.7 777.4 L534.2 778.6 L534.7 780.1 L535.2 781.2 L535.7 781.1 L536.2 778.1 L536.7 773.2 L537.2 766.8 L537.7 756.8 L538.2 745.7 L538.7 734.8 L539.2 723.6 L539.7 714.7 L540.2 707.4 L540.7 701.7 L541.2 698.8 L541.7 697.0 L542.2 696.5 L542.7 699.6 L543.2 704.8 L543.7 710.1 L544.2 716.9 L544.7 723.4 L545.2 726.3 L545.7 724.0 L546.2 718.6 L546.7 712.7 L547.2 708.0 L547.7 703.5 L548.2 699.2 L548.7 695.0 L549.2 691.3 L549.7 687.9 L550.2 684.5 L550.7 680.5 L551.2 675.1 L551.7 668.7 L552.2 663.0 L552.7 658.9 L553.2 655.2 L553.7 653.6 L554.2 654.2 L554.7 655.4 L555.2 656.6 L555.7 657.2 L556.2 655.2 L556.7 650.2 L557.2 644.1 L557.7 638.3 L558.2 631.8 L558.7 625.1 L559.2 620.2 L559.7 616.9 L560.2 614.2 L560.7 612.7 L561.2 613.0 L561.7 615.8 L562.2 620.1 L562.7 625.2 L563.2 633.5 L563.7 644.0 L564.2 654.7 L564.7 664.2 L565.2 673.7 L565.7 683.1 L566.2 692.4 L566.7 701.5 L567.2 710.7 L567.7 719.9 L568.2 728.6 L568.7 736.6 L569.2 743.8 L569.7 750.6 L570.2 756.9 L570.7 762.5 L571.2 767.3 L571.7 771.7 L572.2 775.7 L572.7 779.1 L573.2 782.0 L573.7 784.6 L574.2 787.0 L574.7 789.1 L575.2 790.7 L575.7 791.6 L576.2 792.1 L576.7 792.5 L577.2 792.8 L577.7 793.0 L578.2 793.0 L578.7 792.4 L579.2 791.4 L579.7 790.8 L580.2 791.2 L580.7 792.6 L581.2 794.2 L581.7 795.2 L582.2 795.7 L582.7 796.0 L583.2 796.3 L583.7 796.6 L584.2 796.9 L584.7 797.3 L585.2 797.9 L585.7 798.5 L586.2 799.2 L586.7 799.6 L587.2 799.8 L587.7 799.6 L588.2 799.1 L588.7 798.5 L589.2 798.0 L589.7 797.6 L590.2 797.6 L590.7 797.9 L591.2 798.2 L591.7 798.6 L592.2 798.9 L592.7 799.0 L593.2 798.8 L593.7 798.2 L594.2 797.4 L594.7 796.8 L595.2 796.3 L595.7 796.3 L596.2 796.5 L596.7 796.7 L597.2 796.9 L597.7 797.0 L598.2 797.1 L598.7 796.9 L599.2 796.4 L599.7 795.7 L600.2 794.9 L600.7 794.1 L601.2 793.3 L601.7 792.8 L602.2 792.4 L602.7 792.0 L603.2 791.7 L603.7 791.3 L604.2 790.9 L604.7 790.5 L605.2 790.0 L605.7 789.4 L606.2 788.7 L606.7 787.9 L607.2 787.1 L607.7 786.3 L608.2 785.5 L608.7 784.7 L609.2 783.8 L609.7 783.0 L610.2 782.1 L610.7 781.2 L611.2 780.4 L611.7 779.5 L612.2 778.7 L612.7 777.8 L613.2 776.9 L613.7 776.1 L614.2 775.5 L614.7 775.0 L615.2 774.7 L615.7 774.4 L616.2 774.1 L616.7 773.9 L617.2 773.8 L617.7 773.8 L618.2 774.0 L618.7 774.3 L619.2 774.6 L619.7 774.9 L620.2 775.1 L620.7 775.4 L621.2 775.7 L621.7 776.0 L622.2 776.3 L622.7 776.6 L623.2 776.8 L623.7 776.9 L624.2 777.0 L624.7 777.0 L625.2 777.0 L625.7 776.9 L626.2 776.8 L626.7 776.8 L627.2 776.7 L627.7 776.7 L628.2 776.6 L628.7 776.5 L629.2 776.5 L629.7 776.5 L630.2 776.5 L630.7 776.5 L631.2 776.5 L631.7 776.5 L632.2 776.5 L632.7 776.5 L633.2 776.5 L633.7 776.5 L634.2 776.5 L634.6 776.5" fill="none" stroke="#d40008" stroke-width="1.95" stroke-linejoin="round" stroke-linecap="round" clip-path="url(#clipc)"/>
<text transform="translate(364.7 30.6) scale(1 1.04)" font-size="18.1" fill="#000" text-anchor="middle">ATR-FTIR</text>
<text transform="translate(364.7 52.7) scale(1 1.04)" font-size="18.1" fill="#0000f5" text-anchor="middle">starting growth medium</text>
<text transform="translate(364.7 74.0) scale(1 1.04)" font-size="18.1" fill="#fa0000" text-anchor="middle">supernatant day 12</text>
<text transform="translate(365.6 320.1) scale(1 1.04)" font-size="17.9" fill="#000" text-anchor="middle">HTS-FTIR</text>
<text transform="translate(365.6 341.8) scale(1 1.04)" font-size="17.9" fill="#0000f5" text-anchor="middle">starting growth medium</text>
<text transform="translate(365.6 363.4) scale(1 1.04)" font-size="17.9" fill="#fa0000" text-anchor="middle">supernatant day 12</text>
<text transform="translate(364.3 614.5) scale(1 1.04)" font-size="17.9" fill="#000" text-anchor="middle">HTS-FTIR</text>
<text transform="translate(363.5 636.2) scale(1 1.04)" font-size="17.7" fill="#0000f5" text-anchor="middle">biomass day 1</text>
<text transform="translate(363.9 657.6) scale(1 1.04)" font-size="17.8" fill="#fa0000" text-anchor="middle">biomass day 12</text>
<text transform="translate(176.5 70.9) scale(1 1.07)" font-size="15.0" text-anchor="middle">3300</text>
<text transform="translate(374.2 222.9) scale(1 1.07)" font-size="15.0" text-anchor="middle">2110</text>
<text transform="translate(457.1 159.0) scale(1 1.07)" font-size="15.0" text-anchor="middle">1635</text>
<text transform="translate(556.0 183.3) rotate(-90) scale(1 1.03)" font-size="14.9" text-anchor="middle">1080</text>
<text transform="translate(570.0 183.3) rotate(-90) scale(1 1.03)" font-size="14.9" text-anchor="middle">1035</text>
<text transform="translate(556.0 347.0) rotate(-90) scale(1 1.03)" font-size="14.9" text-anchor="middle">1080</text>
<text transform="translate(570.0 347.0) rotate(-90) scale(1 1.03)" font-size="14.9" text-anchor="middle">1035</text>
<text transform="translate(447.6 487.0) rotate(-90) scale(1 1.03)" font-size="14.9" text-anchor="middle">1725</text>
<text transform="translate(244.0 614.4) rotate(-90) scale(1 1.03)" font-size="14.9" text-anchor="middle">2925</text>
<text transform="translate(260.0 682.8) rotate(-90) scale(1 1.03)" font-size="14.9" text-anchor="middle">2855</text>
<text transform="translate(445.1 713.2) rotate(-90) scale(1 1.03)" font-size="14.9" text-anchor="middle">1745</text>
<text transform="translate(493.1 718.2) rotate(-90) scale(1 1.03)" font-size="14.9" text-anchor="middle">1460</text>
<text transform="translate(540.9 673.6) rotate(-90) scale(1 1.03)" font-size="14.9" text-anchor="middle">1150</text>
<text transform="translate(619.6 750.8) rotate(-90) scale(1 1.03)" font-size="14.9" text-anchor="middle">720</text>
<text transform="translate(244.7 870.9) scale(1 1.04)" font-size="15.55">Wavenumbers (cm<tspan font-size="10.5" dy="-6">-1</tspan><tspan dy="6">)</tspan></text>
</svg>
</body></html>
